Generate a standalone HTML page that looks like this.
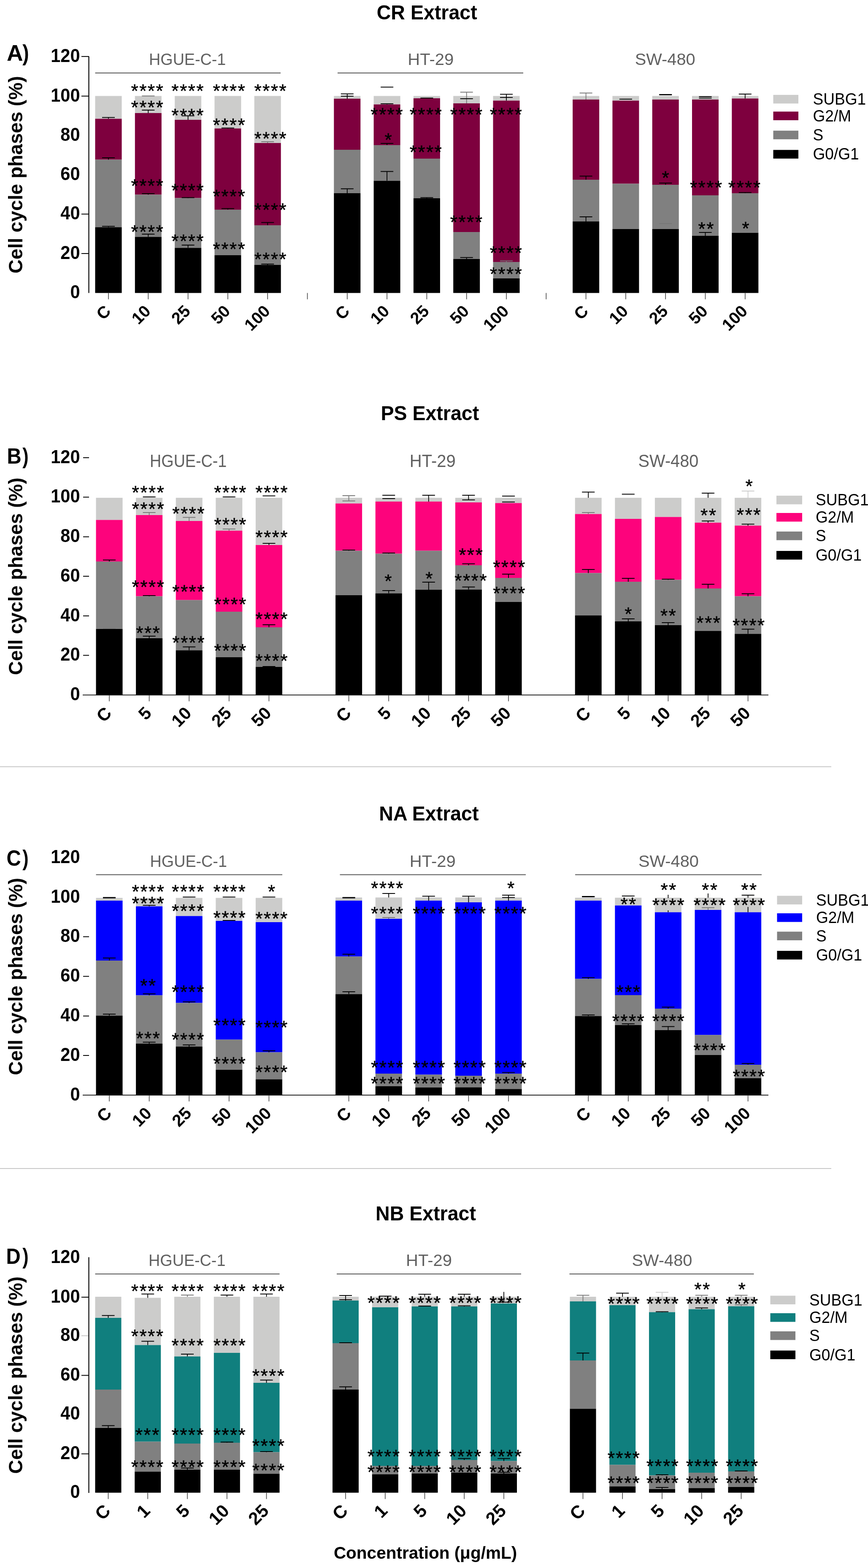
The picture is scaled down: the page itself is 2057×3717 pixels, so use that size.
<!DOCTYPE html><html><head><meta charset="utf-8"><title>Cell cycle phases</title><style>html,body{margin:0;padding:0;background:#fff;}svg{display:block;}</style></head><body><svg width="2057" height="3717" viewBox="0 0 2057 3717" font-family='"Liberation Sans", Arial, sans-serif'>
<rect x="0" y="0" width="2057" height="3717" fill="#fff"/>
<line x1="0.0" y1="1817.5" x2="1970.0" y2="1817.5" stroke="#c6c6c6" stroke-width="2.2"/>
<line x1="0.0" y1="2770.0" x2="1970.0" y2="2770.0" stroke="#c6c6c6" stroke-width="2.2"/>
<text x="0" y="0" font-size="48.5" font-weight="bold" text-anchor="middle" transform="translate(1011.7 45.6) scale(0.96 1)">CR Extract</text>
<text x="0" y="0" font-size="54.5" font-weight="bold" transform="translate(16 144.3) scale(0.98 1)">A</text>
<text x="0" y="0" font-size="54.5" font-weight="bold" transform="translate(53.3 144.3) scale(0.85 1)">)</text>
<text x="0" y="0" font-size="46" font-weight="bold" text-anchor="middle" transform="translate(53.4 414.2) rotate(-90)">Cell cycle phases (%)</text>
<text x="0" y="0" font-size="43.5" font-weight="bold" text-anchor="end" transform="translate(189.5 146.8) scale(0.955 1)">120</text>
<text x="0" y="0" font-size="43.5" font-weight="bold" text-anchor="end" transform="translate(189.5 240.7) scale(0.955 1)">100</text>
<text x="0" y="0" font-size="43.5" font-weight="bold" text-anchor="end" transform="translate(189.5 334.1) scale(0.955 1)">80</text>
<text x="0" y="0" font-size="43.5" font-weight="bold" text-anchor="end" transform="translate(189.5 426.9) scale(0.955 1)">60</text>
<text x="0" y="0" font-size="43.5" font-weight="bold" text-anchor="end" transform="translate(189.5 520.4) scale(0.955 1)">40</text>
<text x="0" y="0" font-size="43.5" font-weight="bold" text-anchor="end" transform="translate(189.5 613.9) scale(0.955 1)">20</text>
<text x="0" y="0" font-size="43.5" font-weight="bold" text-anchor="end" transform="translate(189.5 707.4) scale(0.955 1)">0</text>
<line x1="193.0" y1="133.9" x2="211.0" y2="133.9" stroke="#000" stroke-width="2"/>
<line x1="193.0" y1="227.8" x2="211.0" y2="227.8" stroke="#000" stroke-width="2"/>
<line x1="193.0" y1="507.5" x2="211.0" y2="507.5" stroke="#000" stroke-width="2"/>
<line x1="193.0" y1="601.0" x2="211.0" y2="601.0" stroke="#000" stroke-width="2"/>
<line x1="210.5" y1="134.0" x2="210.5" y2="694.5" stroke="#000" stroke-width="2.2"/>
<rect x="225.5" y="227.5" width="63.0" height="54.0" fill="#cccccb"/>
<rect x="225.5" y="281.5" width="63.0" height="97.0" fill="#7e003e"/>
<rect x="225.5" y="378.5" width="63.0" height="160.0" fill="#808080"/>
<rect x="225.5" y="538.5" width="63.0" height="156.0" fill="#000000"/>
<rect x="319.8" y="227.5" width="63.0" height="40.5" fill="#cccccb"/>
<rect x="319.8" y="268.0" width="63.0" height="193.5" fill="#7e003e"/>
<rect x="319.8" y="461.5" width="63.0" height="100.0" fill="#808080"/>
<rect x="319.8" y="561.5" width="63.0" height="133.0" fill="#000000"/>
<rect x="414.1" y="227.5" width="63.0" height="56.5" fill="#cccccb"/>
<rect x="414.1" y="284.0" width="63.0" height="185.5" fill="#7e003e"/>
<rect x="414.1" y="469.5" width="63.0" height="118.0" fill="#808080"/>
<rect x="414.1" y="587.5" width="63.0" height="107.0" fill="#000000"/>
<rect x="508.4" y="227.5" width="63.0" height="77.0" fill="#cccccb"/>
<rect x="508.4" y="304.5" width="63.0" height="192.5" fill="#7e003e"/>
<rect x="508.4" y="497.0" width="63.0" height="108.0" fill="#808080"/>
<rect x="508.4" y="605.0" width="63.0" height="89.5" fill="#000000"/>
<rect x="602.7" y="227.5" width="63.0" height="111.5" fill="#cccccb"/>
<rect x="602.7" y="339.0" width="63.0" height="195.0" fill="#7e003e"/>
<rect x="602.7" y="534.0" width="63.0" height="94.0" fill="#808080"/>
<rect x="602.7" y="628.0" width="63.0" height="66.5" fill="#000000"/>
<rect x="791.3" y="227.5" width="63.0" height="6.5" fill="#cccccb"/>
<rect x="791.3" y="234.0" width="63.0" height="121.0" fill="#7e003e"/>
<rect x="791.3" y="355.0" width="63.0" height="103.0" fill="#808080"/>
<rect x="791.3" y="458.0" width="63.0" height="236.5" fill="#000000"/>
<rect x="885.6" y="227.5" width="63.0" height="20.0" fill="#cccccb"/>
<rect x="885.6" y="247.5" width="63.0" height="96.5" fill="#7e003e"/>
<rect x="885.6" y="344.0" width="63.0" height="84.5" fill="#808080"/>
<rect x="885.6" y="428.5" width="63.0" height="266.0" fill="#000000"/>
<rect x="979.9" y="227.5" width="63.0" height="5.5" fill="#cccccb"/>
<rect x="979.9" y="233.0" width="63.0" height="143.0" fill="#7e003e"/>
<rect x="979.9" y="376.0" width="63.0" height="94.0" fill="#808080"/>
<rect x="979.9" y="470.0" width="63.0" height="224.5" fill="#000000"/>
<rect x="1074.2" y="227.5" width="63.0" height="17.5" fill="#cccccb"/>
<rect x="1074.2" y="245.0" width="63.0" height="305.0" fill="#7e003e"/>
<rect x="1074.2" y="550.0" width="63.0" height="64.0" fill="#808080"/>
<rect x="1074.2" y="614.0" width="63.0" height="80.5" fill="#000000"/>
<rect x="1168.5" y="227.5" width="63.0" height="11.0" fill="#cccccb"/>
<rect x="1168.5" y="238.5" width="63.0" height="382.5" fill="#7e003e"/>
<rect x="1168.5" y="621.0" width="63.0" height="39.0" fill="#808080"/>
<rect x="1168.5" y="660.0" width="63.0" height="34.5" fill="#000000"/>
<rect x="1357.1" y="227.5" width="63.0" height="8.5" fill="#cccccb"/>
<rect x="1357.1" y="236.0" width="63.0" height="190.0" fill="#7e003e"/>
<rect x="1357.1" y="426.0" width="63.0" height="99.0" fill="#808080"/>
<rect x="1357.1" y="525.0" width="63.0" height="169.5" fill="#000000"/>
<rect x="1451.4" y="227.5" width="63.0" height="11.0" fill="#cccccb"/>
<rect x="1451.4" y="238.5" width="63.0" height="197.0" fill="#7e003e"/>
<rect x="1451.4" y="435.5" width="63.0" height="107.5" fill="#808080"/>
<rect x="1451.4" y="543.0" width="63.0" height="151.5" fill="#000000"/>
<rect x="1545.7" y="227.5" width="63.0" height="8.5" fill="#cccccb"/>
<rect x="1545.7" y="236.0" width="63.0" height="202.0" fill="#7e003e"/>
<rect x="1545.7" y="438.0" width="63.0" height="105.0" fill="#808080"/>
<rect x="1545.7" y="543.0" width="63.0" height="151.5" fill="#000000"/>
<rect x="1640.0" y="227.5" width="63.0" height="8.5" fill="#cccccb"/>
<rect x="1640.0" y="236.0" width="63.0" height="227.0" fill="#7e003e"/>
<rect x="1640.0" y="463.0" width="63.0" height="96.0" fill="#808080"/>
<rect x="1640.0" y="559.0" width="63.0" height="135.5" fill="#000000"/>
<rect x="1734.3" y="227.5" width="63.0" height="6.0" fill="#cccccb"/>
<rect x="1734.3" y="233.5" width="63.0" height="224.5" fill="#7e003e"/>
<rect x="1734.3" y="458.0" width="63.0" height="94.0" fill="#808080"/>
<rect x="1734.3" y="552.0" width="63.0" height="142.5" fill="#000000"/>
<line x1="257.0" y1="694.5" x2="257.0" y2="709.5" stroke="#444" stroke-width="1.6"/>
<line x1="351.3" y1="694.5" x2="351.3" y2="709.5" stroke="#444" stroke-width="1.6"/>
<line x1="445.6" y1="694.5" x2="445.6" y2="709.5" stroke="#444" stroke-width="1.6"/>
<line x1="539.9" y1="694.5" x2="539.9" y2="709.5" stroke="#444" stroke-width="1.6"/>
<line x1="634.2" y1="694.5" x2="634.2" y2="709.5" stroke="#444" stroke-width="1.6"/>
<line x1="728.5" y1="694.5" x2="728.5" y2="709.5" stroke="#444" stroke-width="1.6"/>
<line x1="822.8" y1="694.5" x2="822.8" y2="709.5" stroke="#444" stroke-width="1.6"/>
<line x1="917.1" y1="694.5" x2="917.1" y2="709.5" stroke="#444" stroke-width="1.6"/>
<line x1="1011.4" y1="694.5" x2="1011.4" y2="709.5" stroke="#444" stroke-width="1.6"/>
<line x1="1105.7" y1="694.5" x2="1105.7" y2="709.5" stroke="#444" stroke-width="1.6"/>
<line x1="1200.0" y1="694.5" x2="1200.0" y2="709.5" stroke="#444" stroke-width="1.6"/>
<line x1="1294.3" y1="694.5" x2="1294.3" y2="709.5" stroke="#444" stroke-width="1.6"/>
<line x1="1388.6" y1="694.5" x2="1388.6" y2="709.5" stroke="#444" stroke-width="1.6"/>
<line x1="1482.9" y1="694.5" x2="1482.9" y2="709.5" stroke="#444" stroke-width="1.6"/>
<line x1="1577.2" y1="694.5" x2="1577.2" y2="709.5" stroke="#444" stroke-width="1.6"/>
<line x1="1671.5" y1="694.5" x2="1671.5" y2="709.5" stroke="#444" stroke-width="1.6"/>
<line x1="1765.8" y1="694.5" x2="1765.8" y2="709.5" stroke="#444" stroke-width="1.6"/>
<text x="0" y="0" font-size="39.5" font-weight="bold" text-anchor="end" transform="translate(265.0 740.0) rotate(-45)">C</text>
<text x="0" y="0" font-size="39.5" font-weight="bold" text-anchor="end" transform="translate(359.3 740.0) rotate(-45)">10</text>
<text x="0" y="0" font-size="39.5" font-weight="bold" text-anchor="end" transform="translate(453.6 740.0) rotate(-45)">25</text>
<text x="0" y="0" font-size="39.5" font-weight="bold" text-anchor="end" transform="translate(547.9 740.0) rotate(-45)">50</text>
<text x="0" y="0" font-size="39.5" font-weight="bold" text-anchor="end" transform="translate(642.2 740.0) rotate(-45)">100</text>
<text x="0" y="0" font-size="39.5" font-weight="bold" text-anchor="end" transform="translate(830.8 740.0) rotate(-45)">C</text>
<text x="0" y="0" font-size="39.5" font-weight="bold" text-anchor="end" transform="translate(925.1 740.0) rotate(-45)">10</text>
<text x="0" y="0" font-size="39.5" font-weight="bold" text-anchor="end" transform="translate(1019.4 740.0) rotate(-45)">25</text>
<text x="0" y="0" font-size="39.5" font-weight="bold" text-anchor="end" transform="translate(1113.7 740.0) rotate(-45)">50</text>
<text x="0" y="0" font-size="39.5" font-weight="bold" text-anchor="end" transform="translate(1208.0 740.0) rotate(-45)">100</text>
<text x="0" y="0" font-size="39.5" font-weight="bold" text-anchor="end" transform="translate(1396.6 740.0) rotate(-45)">C</text>
<text x="0" y="0" font-size="39.5" font-weight="bold" text-anchor="end" transform="translate(1490.9 740.0) rotate(-45)">10</text>
<text x="0" y="0" font-size="39.5" font-weight="bold" text-anchor="end" transform="translate(1585.2 740.0) rotate(-45)">25</text>
<text x="0" y="0" font-size="39.5" font-weight="bold" text-anchor="end" transform="translate(1679.5 740.0) rotate(-45)">50</text>
<text x="0" y="0" font-size="39.5" font-weight="bold" text-anchor="end" transform="translate(1773.8 740.0) rotate(-45)">100</text>
<text x="0" y="0" font-size="39" text-anchor="middle" fill="#616161" transform="translate(444.20 153.7) scale(0.967 1.0)">HGUE-C-1</text>
<line x1="225.5" y1="173.0" x2="665.0" y2="173.0" stroke="#555" stroke-width="2"/>
<text x="0" y="0" font-size="39" text-anchor="middle" fill="#616161" transform="translate(1020.75 153.7) scale(1.025 1.0)">HT-29</text>
<line x1="800.0" y1="173.0" x2="1240.0" y2="173.0" stroke="#555" stroke-width="2"/>
<text x="0" y="0" font-size="39" text-anchor="middle" fill="#616161" transform="translate(1576.20 153.7) scale(1.02 1.0)">SW-480</text>
<rect x="1832.5" y="224.9" width="59.5" height="20.5" fill="#cccccb"/>
<text x="0" y="0" font-size="38.5" transform="translate(1926.5 247.9) scale(0.962 1)">SUBG1</text>
<rect x="1832.5" y="264.5" width="59.5" height="20.5" fill="#7e003e"/>
<text x="0" y="0" font-size="38.5" transform="translate(1926.5 287.5) scale(0.962 1)">G2/M</text>
<rect x="1832.5" y="309.7" width="59.5" height="20.5" fill="#808080"/>
<text x="0" y="0" font-size="38.5" transform="translate(1926.5 332.7) scale(0.962 1)">S</text>
<rect x="1832.5" y="355.4" width="59.5" height="20.5" fill="#000000"/>
<text x="0" y="0" font-size="38.5" transform="translate(1926.5 378.4) scale(0.962 1)">G0/G1</text>
<line x1="242.0" y1="278.5" x2="272.0" y2="278.5" stroke="#000" stroke-width="2"/>
<line x1="257.0" y1="278.5" x2="257.0" y2="281.5" stroke="#000" stroke-width="1.8"/>
<line x1="242.0" y1="374.0" x2="272.0" y2="374.0" stroke="#000" stroke-width="2"/>
<line x1="257.0" y1="374.0" x2="257.0" y2="378.5" stroke="#000" stroke-width="1.8"/>
<line x1="242.0" y1="536.5" x2="272.0" y2="536.5" stroke="#000" stroke-width="2"/>
<line x1="257.0" y1="536.5" x2="257.0" y2="538.5" stroke="#000" stroke-width="1.8"/>
<line x1="336.3" y1="227.5" x2="366.3" y2="227.5" stroke="#777" stroke-width="2"/>
<line x1="336.3" y1="261.0" x2="366.3" y2="261.0" stroke="#000" stroke-width="2"/>
<line x1="351.3" y1="261.0" x2="351.3" y2="268.0" stroke="#000" stroke-width="1.8"/>
<line x1="336.3" y1="459.0" x2="366.3" y2="459.0" stroke="#000" stroke-width="2"/>
<line x1="351.3" y1="459.0" x2="351.3" y2="461.5" stroke="#000" stroke-width="1.8"/>
<line x1="336.3" y1="555.0" x2="366.3" y2="555.0" stroke="#000" stroke-width="2"/>
<line x1="351.3" y1="555.0" x2="351.3" y2="561.5" stroke="#000" stroke-width="1.8"/>
<line x1="430.6" y1="274.5" x2="460.6" y2="274.5" stroke="#000" stroke-width="2"/>
<line x1="445.6" y1="274.5" x2="445.6" y2="284.0" stroke="#000" stroke-width="1.8"/>
<line x1="430.6" y1="468.5" x2="460.6" y2="468.5" stroke="#000" stroke-width="2"/>
<line x1="445.6" y1="468.5" x2="445.6" y2="469.5" stroke="#000" stroke-width="1.8"/>
<line x1="430.6" y1="581.0" x2="460.6" y2="581.0" stroke="#000" stroke-width="2"/>
<line x1="445.6" y1="581.0" x2="445.6" y2="587.5" stroke="#000" stroke-width="1.8"/>
<line x1="524.9" y1="303.5" x2="554.9" y2="303.5" stroke="#000" stroke-width="2"/>
<line x1="539.9" y1="303.5" x2="539.9" y2="304.5" stroke="#000" stroke-width="1.8"/>
<line x1="524.9" y1="494.5" x2="554.9" y2="494.5" stroke="#000" stroke-width="2"/>
<line x1="539.9" y1="494.5" x2="539.9" y2="497.0" stroke="#000" stroke-width="1.8"/>
<line x1="619.2" y1="336.0" x2="649.2" y2="336.0" stroke="#777" stroke-width="2"/>
<line x1="634.2" y1="336.0" x2="634.2" y2="339.0" stroke="#777" stroke-width="1.8"/>
<line x1="619.2" y1="527.5" x2="649.2" y2="527.5" stroke="#000" stroke-width="2"/>
<line x1="634.2" y1="527.5" x2="634.2" y2="534.0" stroke="#000" stroke-width="1.8"/>
<line x1="619.2" y1="626.0" x2="649.2" y2="626.0" stroke="#000" stroke-width="2"/>
<line x1="634.2" y1="626.0" x2="634.2" y2="628.0" stroke="#000" stroke-width="1.8"/>
<line x1="807.8" y1="222.5" x2="837.8" y2="222.5" stroke="#000" stroke-width="2"/>
<line x1="822.8" y1="222.5" x2="822.8" y2="234.0" stroke="#000" stroke-width="1.8"/>
<line x1="807.8" y1="228.0" x2="837.8" y2="228.0" stroke="#000" stroke-width="2"/>
<line x1="807.8" y1="447.5" x2="837.8" y2="447.5" stroke="#000" stroke-width="2"/>
<line x1="822.8" y1="447.5" x2="822.8" y2="458.0" stroke="#000" stroke-width="1.8"/>
<line x1="902.1" y1="206.5" x2="932.1" y2="206.5" stroke="#000" stroke-width="2"/>
<line x1="902.1" y1="246.0" x2="932.1" y2="246.0" stroke="#000" stroke-width="2"/>
<line x1="917.1" y1="246.0" x2="917.1" y2="247.5" stroke="#000" stroke-width="1.8"/>
<line x1="902.1" y1="340.0" x2="932.1" y2="340.0" stroke="#000" stroke-width="2"/>
<line x1="917.1" y1="340.0" x2="917.1" y2="344.0" stroke="#000" stroke-width="1.8"/>
<line x1="902.1" y1="406.5" x2="932.1" y2="406.5" stroke="#000" stroke-width="2"/>
<line x1="917.1" y1="406.5" x2="917.1" y2="428.5" stroke="#000" stroke-width="1.8"/>
<line x1="996.4" y1="232.5" x2="1026.4" y2="232.5" stroke="#000" stroke-width="2"/>
<line x1="1011.4" y1="232.5" x2="1011.4" y2="233.0" stroke="#000" stroke-width="1.8"/>
<line x1="996.4" y1="468.5" x2="1026.4" y2="468.5" stroke="#000" stroke-width="2"/>
<line x1="1011.4" y1="468.5" x2="1011.4" y2="470.0" stroke="#000" stroke-width="1.8"/>
<line x1="1090.7" y1="218.5" x2="1120.7" y2="218.5" stroke="#777" stroke-width="2"/>
<line x1="1105.7" y1="218.5" x2="1105.7" y2="245.0" stroke="#777" stroke-width="1.8"/>
<line x1="1090.7" y1="234.0" x2="1120.7" y2="234.0" stroke="#000" stroke-width="2"/>
<line x1="1090.7" y1="610.5" x2="1120.7" y2="610.5" stroke="#000" stroke-width="2"/>
<line x1="1105.7" y1="610.5" x2="1105.7" y2="614.0" stroke="#000" stroke-width="1.8"/>
<line x1="1185.0" y1="223.5" x2="1215.0" y2="223.5" stroke="#000" stroke-width="2"/>
<line x1="1200.0" y1="223.5" x2="1200.0" y2="238.5" stroke="#000" stroke-width="1.8"/>
<line x1="1185.0" y1="231.0" x2="1215.0" y2="231.0" stroke="#000" stroke-width="2"/>
<line x1="1185.0" y1="618.5" x2="1215.0" y2="618.5" stroke="#777" stroke-width="2"/>
<line x1="1200.0" y1="618.5" x2="1200.0" y2="621.0" stroke="#777" stroke-width="1.8"/>
<line x1="1373.6" y1="220.5" x2="1403.6" y2="220.5" stroke="#777" stroke-width="2"/>
<line x1="1388.6" y1="220.5" x2="1388.6" y2="236.0" stroke="#777" stroke-width="1.8"/>
<line x1="1373.6" y1="417.5" x2="1403.6" y2="417.5" stroke="#000" stroke-width="2"/>
<line x1="1388.6" y1="417.5" x2="1388.6" y2="426.0" stroke="#000" stroke-width="1.8"/>
<line x1="1373.6" y1="514.0" x2="1403.6" y2="514.0" stroke="#000" stroke-width="2"/>
<line x1="1388.6" y1="514.0" x2="1388.6" y2="525.0" stroke="#000" stroke-width="1.8"/>
<line x1="1467.9" y1="235.0" x2="1497.9" y2="235.0" stroke="#000" stroke-width="2"/>
<line x1="1562.2" y1="224.0" x2="1592.2" y2="224.0" stroke="#000" stroke-width="2"/>
<line x1="1562.2" y1="224.8" x2="1592.2" y2="224.8" stroke="#000" stroke-width="2"/>
<line x1="1562.2" y1="434.0" x2="1592.2" y2="434.0" stroke="#000" stroke-width="2"/>
<line x1="1577.2" y1="434.0" x2="1577.2" y2="438.0" stroke="#000" stroke-width="1.8"/>
<line x1="1562.2" y1="530.0" x2="1592.2" y2="530.0" stroke="#777" stroke-width="2"/>
<line x1="1656.5" y1="229.0" x2="1686.5" y2="229.0" stroke="#000" stroke-width="2"/>
<line x1="1656.5" y1="232.5" x2="1686.5" y2="232.5" stroke="#000" stroke-width="2"/>
<line x1="1656.5" y1="551.0" x2="1686.5" y2="551.0" stroke="#000" stroke-width="2"/>
<line x1="1671.5" y1="551.0" x2="1671.5" y2="559.0" stroke="#000" stroke-width="1.8"/>
<line x1="1750.8" y1="223.0" x2="1780.8" y2="223.0" stroke="#000" stroke-width="2"/>
<line x1="1765.8" y1="223.0" x2="1765.8" y2="233.5" stroke="#000" stroke-width="1.8"/>
<line x1="1750.8" y1="456.5" x2="1780.8" y2="456.5" stroke="#000" stroke-width="2"/>
<line x1="1765.8" y1="456.5" x2="1765.8" y2="458.0" stroke="#000" stroke-width="1.8"/>
<text x="349.8" y="231.0" font-size="44.5" font-weight="normal" text-anchor="middle" fill="#000" letter-spacing="2.3" stroke="#000" stroke-width="0.5">****</text>
<text x="349.8" y="269.5" font-size="44.5" font-weight="normal" text-anchor="middle" fill="#000" letter-spacing="2.3" stroke="#000" stroke-width="0.5">****</text>
<text x="349.8" y="455.5" font-size="44.5" font-weight="normal" text-anchor="middle" fill="#000" letter-spacing="2.3" stroke="#000" stroke-width="0.5">****</text>
<text x="349.8" y="564.5" font-size="44.5" font-weight="normal" text-anchor="middle" fill="#000" letter-spacing="2.3" stroke="#000" stroke-width="0.5">****</text>
<text x="445.6" y="231.0" font-size="44.5" font-weight="normal" text-anchor="middle" fill="#000" letter-spacing="2.3" stroke="#000" stroke-width="0.5">****</text>
<text x="445.6" y="289.0" font-size="44.5" font-weight="normal" text-anchor="middle" fill="#000" letter-spacing="2.3" stroke="#000" stroke-width="0.5">****</text>
<text x="445.6" y="467.0" font-size="44.5" font-weight="normal" text-anchor="middle" fill="#000" letter-spacing="2.3" stroke="#000" stroke-width="0.5">****</text>
<text x="445.6" y="587.0" font-size="44.5" font-weight="normal" text-anchor="middle" fill="#000" letter-spacing="2.3" stroke="#000" stroke-width="0.5">****</text>
<text x="543.8" y="231.0" font-size="44.5" font-weight="normal" text-anchor="middle" fill="#000" letter-spacing="2.3" stroke="#000" stroke-width="0.5">****</text>
<text x="543.8" y="311.5" font-size="44.5" font-weight="normal" text-anchor="middle" fill="#000" letter-spacing="2.3" stroke="#000" stroke-width="0.5">****</text>
<text x="543.8" y="481.0" font-size="44.5" font-weight="normal" text-anchor="middle" fill="#000" letter-spacing="2.3" stroke="#000" stroke-width="0.5">****</text>
<text x="543.8" y="605.5" font-size="44.5" font-weight="normal" text-anchor="middle" fill="#000" letter-spacing="2.3" stroke="#000" stroke-width="0.5">****</text>
<text x="641.7" y="231.0" font-size="44.5" font-weight="normal" text-anchor="middle" fill="#000" letter-spacing="2.3" stroke="#000" stroke-width="0.5">****</text>
<text x="641.7" y="344.0" font-size="44.5" font-weight="normal" text-anchor="middle" fill="#000" letter-spacing="2.3" stroke="#000" stroke-width="0.5">****</text>
<text x="641.7" y="513.0" font-size="44.5" font-weight="normal" text-anchor="middle" fill="#000" letter-spacing="2.3" stroke="#000" stroke-width="0.5">****</text>
<text x="641.7" y="629.5" font-size="44.5" font-weight="normal" text-anchor="middle" fill="#000" letter-spacing="2.3" stroke="#000" stroke-width="0.5">****</text>
<text x="917.6" y="287.0" font-size="44.5" font-weight="normal" text-anchor="middle" fill="#000" letter-spacing="2.3" stroke="#000" stroke-width="0.5">****</text>
<text x="921.2" y="346.5" font-size="44.5" font-weight="normal" text-anchor="middle" fill="#000" letter-spacing="2.3" stroke="#000" stroke-width="0.5">*</text>
<text x="1009.9" y="287.0" font-size="44.5" font-weight="normal" text-anchor="middle" fill="#000" letter-spacing="2.3" stroke="#000" stroke-width="0.5">****</text>
<text x="1009.9" y="376.0" font-size="44.5" font-weight="normal" text-anchor="middle" fill="#000" letter-spacing="2.3" stroke="#000" stroke-width="0.5">****</text>
<text x="1106.1" y="287.0" font-size="44.5" font-weight="normal" text-anchor="middle" fill="#000" letter-spacing="2.3" stroke="#000" stroke-width="0.5">****</text>
<text x="1106.1" y="542.0" font-size="44.5" font-weight="normal" text-anchor="middle" fill="#000" letter-spacing="2.3" stroke="#000" stroke-width="0.5">****</text>
<text x="1200.0" y="287.0" font-size="44.5" font-weight="normal" text-anchor="middle" fill="#000" letter-spacing="2.3" stroke="#000" stroke-width="0.5">****</text>
<text x="1200.0" y="615.0" font-size="44.5" font-weight="normal" text-anchor="middle" fill="#000" letter-spacing="2.3" stroke="#000" stroke-width="0.5">****</text>
<text x="1200.0" y="664.5" font-size="44.5" font-weight="normal" text-anchor="middle" fill="#000" letter-spacing="2.3" stroke="#000" stroke-width="0.5">****</text>
<text x="1578.4" y="437.0" font-size="44.5" font-weight="normal" text-anchor="middle" fill="#000" letter-spacing="2.3" stroke="#000" stroke-width="0.5">*</text>
<text x="1674.2" y="459.5" font-size="44.5" font-weight="normal" text-anchor="middle" fill="#000" letter-spacing="2.3" stroke="#000" stroke-width="0.5">****</text>
<text x="1674.2" y="558.0" font-size="44.5" font-weight="normal" text-anchor="middle" fill="#000" letter-spacing="2.3" stroke="#000" stroke-width="0.5">**</text>
<text x="1765.1" y="459.5" font-size="44.5" font-weight="normal" text-anchor="middle" fill="#000" letter-spacing="2.3" stroke="#000" stroke-width="0.5">****</text>
<text x="1768.1" y="557.0" font-size="44.5" font-weight="normal" text-anchor="middle" fill="#000" letter-spacing="2.3" stroke="#000" stroke-width="0.5">*</text>
<text x="0" y="0" font-size="48.5" font-weight="bold" text-anchor="middle" transform="translate(1018.8 996.1) scale(0.96 1)">PS Extract</text>
<text x="0" y="0" font-size="51" font-weight="bold" transform="translate(16.5 1099.4) scale(0.93 1)">B</text>
<text x="0" y="0" font-size="51" font-weight="bold" transform="translate(53.3 1099.4) scale(0.85 1)">)</text>
<text x="0" y="0" font-size="46" font-weight="bold" text-anchor="middle" transform="translate(53.4 1366.2) rotate(-90)">Cell cycle phases (%)</text>
<text x="0" y="0" font-size="43.5" font-weight="bold" text-anchor="end" transform="translate(189.5 1097.9) scale(0.955 1)">120</text>
<text x="0" y="0" font-size="43.5" font-weight="bold" text-anchor="end" transform="translate(189.5 1191.4) scale(0.955 1)">100</text>
<text x="0" y="0" font-size="43.5" font-weight="bold" text-anchor="end" transform="translate(189.5 1285.4) scale(0.955 1)">80</text>
<text x="0" y="0" font-size="43.5" font-weight="bold" text-anchor="end" transform="translate(189.5 1378.9) scale(0.955 1)">60</text>
<text x="0" y="0" font-size="43.5" font-weight="bold" text-anchor="end" transform="translate(189.5 1472.9) scale(0.955 1)">40</text>
<text x="0" y="0" font-size="43.5" font-weight="bold" text-anchor="end" transform="translate(189.5 1566.4) scale(0.955 1)">20</text>
<text x="0" y="0" font-size="43.5" font-weight="bold" text-anchor="end" transform="translate(189.5 1660.4) scale(0.955 1)">0</text>
<line x1="197.0" y1="1085.0" x2="211.0" y2="1085.0" stroke="#000" stroke-width="2"/>
<line x1="197.0" y1="1178.5" x2="211.0" y2="1178.5" stroke="#000" stroke-width="2"/>
<line x1="197.0" y1="1272.5" x2="211.0" y2="1272.5" stroke="#000" stroke-width="2"/>
<line x1="197.0" y1="1366.0" x2="211.0" y2="1366.0" stroke="#000" stroke-width="2"/>
<line x1="197.0" y1="1460.0" x2="211.0" y2="1460.0" stroke="#000" stroke-width="2"/>
<line x1="197.0" y1="1553.5" x2="211.0" y2="1553.5" stroke="#000" stroke-width="2"/>
<line x1="196.0" y1="1647.5" x2="1821.0" y2="1647.5" stroke="#222" stroke-width="2"/>
<rect x="227.5" y="1180.0" width="63.0" height="52.5" fill="#cccccb"/>
<rect x="227.5" y="1232.5" width="63.0" height="98.5" fill="#fd037c"/>
<rect x="227.5" y="1331.0" width="63.0" height="160.0" fill="#808080"/>
<rect x="227.5" y="1491.0" width="63.0" height="156.5" fill="#000000"/>
<rect x="322.1" y="1180.0" width="63.0" height="41.0" fill="#cccccb"/>
<rect x="322.1" y="1221.0" width="63.0" height="192.5" fill="#fd037c"/>
<rect x="322.1" y="1413.5" width="63.0" height="99.5" fill="#808080"/>
<rect x="322.1" y="1513.0" width="63.0" height="134.5" fill="#000000"/>
<rect x="416.7" y="1180.0" width="63.0" height="55.0" fill="#cccccb"/>
<rect x="416.7" y="1235.0" width="63.0" height="187.5" fill="#fd037c"/>
<rect x="416.7" y="1422.5" width="63.0" height="119.0" fill="#808080"/>
<rect x="416.7" y="1541.5" width="63.0" height="106.0" fill="#000000"/>
<rect x="511.3" y="1180.0" width="63.0" height="78.0" fill="#cccccb"/>
<rect x="511.3" y="1258.0" width="63.0" height="192.0" fill="#fd037c"/>
<rect x="511.3" y="1450.0" width="63.0" height="108.0" fill="#808080"/>
<rect x="511.3" y="1558.0" width="63.0" height="89.5" fill="#000000"/>
<rect x="605.9" y="1180.0" width="63.0" height="112.0" fill="#cccccb"/>
<rect x="605.9" y="1292.0" width="63.0" height="195.0" fill="#fd037c"/>
<rect x="605.9" y="1487.0" width="63.0" height="94.0" fill="#808080"/>
<rect x="605.9" y="1581.0" width="63.0" height="66.5" fill="#000000"/>
<rect x="795.1" y="1180.0" width="63.0" height="13.5" fill="#cccccb"/>
<rect x="795.1" y="1193.5" width="63.0" height="112.0" fill="#fd037c"/>
<rect x="795.1" y="1305.5" width="63.0" height="105.5" fill="#808080"/>
<rect x="795.1" y="1411.0" width="63.0" height="236.5" fill="#000000"/>
<rect x="889.7" y="1180.0" width="63.0" height="9.0" fill="#cccccb"/>
<rect x="889.7" y="1189.0" width="63.0" height="123.5" fill="#fd037c"/>
<rect x="889.7" y="1312.5" width="63.0" height="94.0" fill="#808080"/>
<rect x="889.7" y="1406.5" width="63.0" height="241.0" fill="#000000"/>
<rect x="984.3" y="1180.0" width="63.0" height="9.0" fill="#cccccb"/>
<rect x="984.3" y="1189.0" width="63.0" height="116.5" fill="#fd037c"/>
<rect x="984.3" y="1305.5" width="63.0" height="92.5" fill="#808080"/>
<rect x="984.3" y="1398.0" width="63.0" height="249.5" fill="#000000"/>
<rect x="1078.9" y="1180.0" width="63.0" height="11.0" fill="#cccccb"/>
<rect x="1078.9" y="1191.0" width="63.0" height="149.0" fill="#fd037c"/>
<rect x="1078.9" y="1340.0" width="63.0" height="57.5" fill="#808080"/>
<rect x="1078.9" y="1397.5" width="63.0" height="250.0" fill="#000000"/>
<rect x="1173.5" y="1180.0" width="63.0" height="12.5" fill="#cccccb"/>
<rect x="1173.5" y="1192.5" width="63.0" height="177.5" fill="#fd037c"/>
<rect x="1173.5" y="1370.0" width="63.0" height="57.0" fill="#808080"/>
<rect x="1173.5" y="1427.0" width="63.0" height="220.5" fill="#000000"/>
<rect x="1362.7" y="1180.0" width="63.0" height="38.5" fill="#cccccb"/>
<rect x="1362.7" y="1218.5" width="63.0" height="140.0" fill="#fd037c"/>
<rect x="1362.7" y="1358.5" width="63.0" height="100.5" fill="#808080"/>
<rect x="1362.7" y="1459.0" width="63.0" height="188.5" fill="#000000"/>
<rect x="1457.3" y="1180.0" width="63.0" height="50.0" fill="#cccccb"/>
<rect x="1457.3" y="1230.0" width="63.0" height="149.0" fill="#fd037c"/>
<rect x="1457.3" y="1379.0" width="63.0" height="94.0" fill="#808080"/>
<rect x="1457.3" y="1473.0" width="63.0" height="174.5" fill="#000000"/>
<rect x="1551.9" y="1180.0" width="63.0" height="45.5" fill="#cccccb"/>
<rect x="1551.9" y="1225.5" width="63.0" height="149.0" fill="#fd037c"/>
<rect x="1551.9" y="1374.5" width="63.0" height="107.5" fill="#808080"/>
<rect x="1551.9" y="1482.0" width="63.0" height="165.5" fill="#000000"/>
<rect x="1646.5" y="1180.0" width="63.0" height="59.0" fill="#cccccb"/>
<rect x="1646.5" y="1239.0" width="63.0" height="156.0" fill="#fd037c"/>
<rect x="1646.5" y="1395.0" width="63.0" height="100.5" fill="#808080"/>
<rect x="1646.5" y="1495.5" width="63.0" height="152.0" fill="#000000"/>
<rect x="1741.1" y="1180.0" width="63.0" height="66.0" fill="#cccccb"/>
<rect x="1741.1" y="1246.0" width="63.0" height="167.5" fill="#fd037c"/>
<rect x="1741.1" y="1413.5" width="63.0" height="89.0" fill="#808080"/>
<rect x="1741.1" y="1502.5" width="63.0" height="145.0" fill="#000000"/>
<line x1="259.0" y1="1647.5" x2="259.0" y2="1662.5" stroke="#444" stroke-width="1.6"/>
<line x1="353.6" y1="1647.5" x2="353.6" y2="1662.5" stroke="#444" stroke-width="1.6"/>
<line x1="448.2" y1="1647.5" x2="448.2" y2="1662.5" stroke="#444" stroke-width="1.6"/>
<line x1="542.8" y1="1647.5" x2="542.8" y2="1662.5" stroke="#444" stroke-width="1.6"/>
<line x1="637.4" y1="1647.5" x2="637.4" y2="1662.5" stroke="#444" stroke-width="1.6"/>
<line x1="826.6" y1="1647.5" x2="826.6" y2="1662.5" stroke="#444" stroke-width="1.6"/>
<line x1="921.2" y1="1647.5" x2="921.2" y2="1662.5" stroke="#444" stroke-width="1.6"/>
<line x1="1015.8" y1="1647.5" x2="1015.8" y2="1662.5" stroke="#444" stroke-width="1.6"/>
<line x1="1110.4" y1="1647.5" x2="1110.4" y2="1662.5" stroke="#444" stroke-width="1.6"/>
<line x1="1205.0" y1="1647.5" x2="1205.0" y2="1662.5" stroke="#444" stroke-width="1.6"/>
<line x1="1394.2" y1="1647.5" x2="1394.2" y2="1662.5" stroke="#444" stroke-width="1.6"/>
<line x1="1488.8" y1="1647.5" x2="1488.8" y2="1662.5" stroke="#444" stroke-width="1.6"/>
<line x1="1583.4" y1="1647.5" x2="1583.4" y2="1662.5" stroke="#444" stroke-width="1.6"/>
<line x1="1678.0" y1="1647.5" x2="1678.0" y2="1662.5" stroke="#444" stroke-width="1.6"/>
<line x1="1772.6" y1="1647.5" x2="1772.6" y2="1662.5" stroke="#444" stroke-width="1.6"/>
<text x="0" y="0" font-size="41.5" font-weight="bold" text-anchor="end" transform="translate(267.0 1693.0) rotate(-45)">C</text>
<text x="0" y="0" font-size="41.5" font-weight="bold" text-anchor="end" transform="translate(361.6 1693.0) rotate(-45)">5</text>
<text x="0" y="0" font-size="41.5" font-weight="bold" text-anchor="end" transform="translate(456.2 1693.0) rotate(-45)">10</text>
<text x="0" y="0" font-size="41.5" font-weight="bold" text-anchor="end" transform="translate(550.8 1693.0) rotate(-45)">25</text>
<text x="0" y="0" font-size="41.5" font-weight="bold" text-anchor="end" transform="translate(645.4 1693.0) rotate(-45)">50</text>
<text x="0" y="0" font-size="41.5" font-weight="bold" text-anchor="end" transform="translate(834.6 1693.0) rotate(-45)">C</text>
<text x="0" y="0" font-size="41.5" font-weight="bold" text-anchor="end" transform="translate(929.2 1693.0) rotate(-45)">5</text>
<text x="0" y="0" font-size="41.5" font-weight="bold" text-anchor="end" transform="translate(1023.8 1693.0) rotate(-45)">10</text>
<text x="0" y="0" font-size="41.5" font-weight="bold" text-anchor="end" transform="translate(1118.4 1693.0) rotate(-45)">25</text>
<text x="0" y="0" font-size="41.5" font-weight="bold" text-anchor="end" transform="translate(1213.0 1693.0) rotate(-45)">50</text>
<text x="0" y="0" font-size="41.5" font-weight="bold" text-anchor="end" transform="translate(1402.2 1693.0) rotate(-45)">C</text>
<text x="0" y="0" font-size="41.5" font-weight="bold" text-anchor="end" transform="translate(1496.8 1693.0) rotate(-45)">5</text>
<text x="0" y="0" font-size="41.5" font-weight="bold" text-anchor="end" transform="translate(1591.4 1693.0) rotate(-45)">10</text>
<text x="0" y="0" font-size="41.5" font-weight="bold" text-anchor="end" transform="translate(1686.0 1693.0) rotate(-45)">25</text>
<text x="0" y="0" font-size="41.5" font-weight="bold" text-anchor="end" transform="translate(1780.6 1693.0) rotate(-45)">50</text>
<text x="0" y="0" font-size="39" text-anchor="middle" fill="#616161" transform="translate(446.20 1106.7) scale(0.967 1.08)">HGUE-C-1</text>
<text x="0" y="0" font-size="39" text-anchor="middle" fill="#616161" transform="translate(1025.25 1106.7) scale(1.025 1.08)">HT-29</text>
<text x="0" y="0" font-size="39" text-anchor="middle" fill="#616161" transform="translate(1584.00 1106.7) scale(1.02 1.08)">SW-480</text>
<rect x="1840.0" y="1175.0" width="61.0" height="20.5" fill="#cccccb"/>
<text x="0" y="0" font-size="38.5" transform="translate(1933 1198.0) scale(0.962 1)">SUBG1</text>
<rect x="1840.0" y="1216.0" width="61.0" height="20.5" fill="#fd037c"/>
<text x="0" y="0" font-size="38.5" transform="translate(1933 1239.0) scale(0.962 1)">G2/M</text>
<rect x="1840.0" y="1260.0" width="61.0" height="20.5" fill="#808080"/>
<text x="0" y="0" font-size="38.5" transform="translate(1933 1283.0) scale(0.962 1)">S</text>
<rect x="1840.0" y="1306.0" width="61.0" height="20.5" fill="#000000"/>
<text x="0" y="0" font-size="38.5" transform="translate(1933 1329.0) scale(0.962 1)">G0/G1</text>
<line x1="244.0" y1="1327.5" x2="274.0" y2="1327.5" stroke="#000" stroke-width="2"/>
<line x1="259.0" y1="1327.5" x2="259.0" y2="1331.0" stroke="#000" stroke-width="1.8"/>
<line x1="244.0" y1="1490.0" x2="274.0" y2="1490.0" stroke="#777" stroke-width="2"/>
<line x1="259.0" y1="1490.0" x2="259.0" y2="1491.0" stroke="#777" stroke-width="1.8"/>
<line x1="338.6" y1="1178.0" x2="368.6" y2="1178.0" stroke="#000" stroke-width="2"/>
<line x1="338.6" y1="1215.0" x2="368.6" y2="1215.0" stroke="#777" stroke-width="2"/>
<line x1="353.6" y1="1215.0" x2="353.6" y2="1221.0" stroke="#777" stroke-width="1.8"/>
<line x1="338.6" y1="1412.0" x2="368.6" y2="1412.0" stroke="#000" stroke-width="2"/>
<line x1="353.6" y1="1412.0" x2="353.6" y2="1413.5" stroke="#000" stroke-width="1.8"/>
<line x1="338.6" y1="1508.0" x2="368.6" y2="1508.0" stroke="#000" stroke-width="2"/>
<line x1="353.6" y1="1508.0" x2="353.6" y2="1513.0" stroke="#000" stroke-width="1.8"/>
<line x1="433.2" y1="1226.5" x2="463.2" y2="1226.5" stroke="#777" stroke-width="2"/>
<line x1="448.2" y1="1226.5" x2="448.2" y2="1235.0" stroke="#777" stroke-width="1.8"/>
<line x1="433.2" y1="1533.5" x2="463.2" y2="1533.5" stroke="#000" stroke-width="2"/>
<line x1="448.2" y1="1533.5" x2="448.2" y2="1541.5" stroke="#000" stroke-width="1.8"/>
<line x1="527.8" y1="1178.0" x2="557.8" y2="1178.0" stroke="#000" stroke-width="2"/>
<line x1="527.8" y1="1254.0" x2="557.8" y2="1254.0" stroke="#777" stroke-width="2"/>
<line x1="542.8" y1="1254.0" x2="542.8" y2="1258.0" stroke="#777" stroke-width="1.8"/>
<line x1="622.4" y1="1175.5" x2="652.4" y2="1175.5" stroke="#000" stroke-width="2"/>
<line x1="622.4" y1="1288.0" x2="652.4" y2="1288.0" stroke="#000" stroke-width="2"/>
<line x1="637.4" y1="1288.0" x2="637.4" y2="1292.0" stroke="#000" stroke-width="1.8"/>
<line x1="622.4" y1="1481.0" x2="652.4" y2="1481.0" stroke="#000" stroke-width="2"/>
<line x1="637.4" y1="1481.0" x2="637.4" y2="1487.0" stroke="#000" stroke-width="1.8"/>
<line x1="622.4" y1="1580.0" x2="652.4" y2="1580.0" stroke="#000" stroke-width="2"/>
<line x1="637.4" y1="1580.0" x2="637.4" y2="1581.0" stroke="#000" stroke-width="1.8"/>
<line x1="811.6" y1="1175.0" x2="841.6" y2="1175.0" stroke="#777" stroke-width="2"/>
<line x1="826.6" y1="1175.0" x2="826.6" y2="1187.5" stroke="#777" stroke-width="1.8"/>
<line x1="811.6" y1="1187.5" x2="841.6" y2="1187.5" stroke="#777" stroke-width="2"/>
<line x1="811.6" y1="1304.0" x2="841.6" y2="1304.0" stroke="#000" stroke-width="2"/>
<line x1="826.6" y1="1304.0" x2="826.6" y2="1305.5" stroke="#000" stroke-width="1.8"/>
<line x1="906.2" y1="1174.0" x2="936.2" y2="1174.0" stroke="#000" stroke-width="2"/>
<line x1="906.2" y1="1182.0" x2="936.2" y2="1182.0" stroke="#000" stroke-width="2"/>
<line x1="906.2" y1="1311.0" x2="936.2" y2="1311.0" stroke="#000" stroke-width="2"/>
<line x1="921.2" y1="1311.0" x2="921.2" y2="1312.5" stroke="#000" stroke-width="1.8"/>
<line x1="906.2" y1="1400.0" x2="936.2" y2="1400.0" stroke="#000" stroke-width="2"/>
<line x1="921.2" y1="1400.0" x2="921.2" y2="1406.5" stroke="#000" stroke-width="1.8"/>
<line x1="1000.8" y1="1174.0" x2="1030.8" y2="1174.0" stroke="#000" stroke-width="2"/>
<line x1="1015.8" y1="1174.0" x2="1015.8" y2="1189.0" stroke="#000" stroke-width="1.8"/>
<line x1="1000.8" y1="1380.0" x2="1030.8" y2="1380.0" stroke="#000" stroke-width="2"/>
<line x1="1015.8" y1="1380.0" x2="1015.8" y2="1398.0" stroke="#000" stroke-width="1.8"/>
<line x1="1095.4" y1="1174.0" x2="1125.4" y2="1174.0" stroke="#000" stroke-width="2"/>
<line x1="1110.4" y1="1174.0" x2="1110.4" y2="1185.0" stroke="#000" stroke-width="1.8"/>
<line x1="1095.4" y1="1185.0" x2="1125.4" y2="1185.0" stroke="#000" stroke-width="2"/>
<line x1="1095.4" y1="1336.5" x2="1125.4" y2="1336.5" stroke="#000" stroke-width="2"/>
<line x1="1110.4" y1="1336.5" x2="1110.4" y2="1340.0" stroke="#000" stroke-width="1.8"/>
<line x1="1095.4" y1="1391.5" x2="1125.4" y2="1391.5" stroke="#000" stroke-width="2"/>
<line x1="1110.4" y1="1391.5" x2="1110.4" y2="1397.5" stroke="#000" stroke-width="1.8"/>
<line x1="1190.0" y1="1176.0" x2="1220.0" y2="1176.0" stroke="#000" stroke-width="2"/>
<line x1="1190.0" y1="1190.0" x2="1220.0" y2="1190.0" stroke="#000" stroke-width="2"/>
<line x1="1190.0" y1="1361.0" x2="1220.0" y2="1361.0" stroke="#000" stroke-width="2"/>
<line x1="1205.0" y1="1361.0" x2="1205.0" y2="1370.0" stroke="#000" stroke-width="1.8"/>
<line x1="1379.2" y1="1166.5" x2="1409.2" y2="1166.5" stroke="#000" stroke-width="2"/>
<line x1="1394.2" y1="1166.5" x2="1394.2" y2="1180.0" stroke="#000" stroke-width="1.8"/>
<line x1="1379.2" y1="1215.0" x2="1409.2" y2="1215.0" stroke="#777" stroke-width="2"/>
<line x1="1394.2" y1="1215.0" x2="1394.2" y2="1218.5" stroke="#777" stroke-width="1.8"/>
<line x1="1379.2" y1="1350.0" x2="1409.2" y2="1350.0" stroke="#000" stroke-width="2"/>
<line x1="1394.2" y1="1350.0" x2="1394.2" y2="1358.5" stroke="#000" stroke-width="1.8"/>
<line x1="1473.8" y1="1171.5" x2="1503.8" y2="1171.5" stroke="#000" stroke-width="2"/>
<line x1="1473.8" y1="1371.0" x2="1503.8" y2="1371.0" stroke="#000" stroke-width="2"/>
<line x1="1488.8" y1="1371.0" x2="1488.8" y2="1379.0" stroke="#000" stroke-width="1.8"/>
<line x1="1473.8" y1="1467.0" x2="1503.8" y2="1467.0" stroke="#000" stroke-width="2"/>
<line x1="1488.8" y1="1467.0" x2="1488.8" y2="1473.0" stroke="#000" stroke-width="1.8"/>
<line x1="1568.4" y1="1373.0" x2="1598.4" y2="1373.0" stroke="#000" stroke-width="2"/>
<line x1="1583.4" y1="1373.0" x2="1583.4" y2="1374.5" stroke="#000" stroke-width="1.8"/>
<line x1="1568.4" y1="1476.0" x2="1598.4" y2="1476.0" stroke="#000" stroke-width="2"/>
<line x1="1583.4" y1="1476.0" x2="1583.4" y2="1482.0" stroke="#000" stroke-width="1.8"/>
<line x1="1663.0" y1="1169.0" x2="1693.0" y2="1169.0" stroke="#000" stroke-width="2"/>
<line x1="1678.0" y1="1169.0" x2="1678.0" y2="1180.0" stroke="#000" stroke-width="1.8"/>
<line x1="1663.0" y1="1235.0" x2="1693.0" y2="1235.0" stroke="#000" stroke-width="2"/>
<line x1="1678.0" y1="1235.0" x2="1678.0" y2="1239.0" stroke="#000" stroke-width="1.8"/>
<line x1="1663.0" y1="1385.0" x2="1693.0" y2="1385.0" stroke="#000" stroke-width="2"/>
<line x1="1678.0" y1="1385.0" x2="1678.0" y2="1395.0" stroke="#000" stroke-width="1.8"/>
<line x1="1757.6" y1="1164.0" x2="1787.6" y2="1164.0" stroke="#ccc" stroke-width="2"/>
<line x1="1772.6" y1="1164.0" x2="1772.6" y2="1180.0" stroke="#ccc" stroke-width="1.8"/>
<line x1="1757.6" y1="1242.5" x2="1787.6" y2="1242.5" stroke="#000" stroke-width="2"/>
<line x1="1772.6" y1="1242.5" x2="1772.6" y2="1246.0" stroke="#000" stroke-width="1.8"/>
<line x1="1757.6" y1="1407.5" x2="1787.6" y2="1407.5" stroke="#000" stroke-width="2"/>
<line x1="1772.6" y1="1407.5" x2="1772.6" y2="1413.5" stroke="#000" stroke-width="1.8"/>
<line x1="1757.6" y1="1491.5" x2="1787.6" y2="1491.5" stroke="#000" stroke-width="2"/>
<line x1="1772.6" y1="1491.5" x2="1772.6" y2="1502.5" stroke="#000" stroke-width="1.8"/>
<text x="351.8" y="1183.0" font-size="44.5" font-weight="normal" text-anchor="middle" fill="#000" letter-spacing="2.3" stroke="#000" stroke-width="0.5">****</text>
<text x="351.8" y="1222.0" font-size="44.5" font-weight="normal" text-anchor="middle" fill="#000" letter-spacing="2.3" stroke="#000" stroke-width="0.5">****</text>
<text x="351.8" y="1407.0" font-size="44.5" font-weight="normal" text-anchor="middle" fill="#000" letter-spacing="2.3" stroke="#000" stroke-width="0.5">****</text>
<text x="351.8" y="1516.0" font-size="44.5" font-weight="normal" text-anchor="middle" fill="#000" letter-spacing="2.3" stroke="#000" stroke-width="0.5">***</text>
<text x="447.6" y="1233.0" font-size="44.5" font-weight="normal" text-anchor="middle" fill="#000" letter-spacing="2.3" stroke="#000" stroke-width="0.5">****</text>
<text x="447.6" y="1418.0" font-size="44.5" font-weight="normal" text-anchor="middle" fill="#000" letter-spacing="2.3" stroke="#000" stroke-width="0.5">****</text>
<text x="447.6" y="1539.0" font-size="44.5" font-weight="normal" text-anchor="middle" fill="#000" letter-spacing="2.3" stroke="#000" stroke-width="0.5">****</text>
<text x="546.5" y="1183.0" font-size="44.5" font-weight="normal" text-anchor="middle" fill="#000" letter-spacing="2.3" stroke="#000" stroke-width="0.5">****</text>
<text x="546.5" y="1259.0" font-size="44.5" font-weight="normal" text-anchor="middle" fill="#000" letter-spacing="2.3" stroke="#000" stroke-width="0.5">****</text>
<text x="546.5" y="1448.0" font-size="44.5" font-weight="normal" text-anchor="middle" fill="#000" letter-spacing="2.3" stroke="#000" stroke-width="0.5">****</text>
<text x="546.5" y="1558.0" font-size="44.5" font-weight="normal" text-anchor="middle" fill="#000" letter-spacing="2.3" stroke="#000" stroke-width="0.5">****</text>
<text x="644.6" y="1183.0" font-size="44.5" font-weight="normal" text-anchor="middle" fill="#000" letter-spacing="2.3" stroke="#000" stroke-width="0.5">****</text>
<text x="644.6" y="1289.0" font-size="44.5" font-weight="normal" text-anchor="middle" fill="#000" letter-spacing="2.3" stroke="#000" stroke-width="0.5">****</text>
<text x="644.6" y="1483.0" font-size="44.5" font-weight="normal" text-anchor="middle" fill="#000" letter-spacing="2.3" stroke="#000" stroke-width="0.5">****</text>
<text x="644.6" y="1582.0" font-size="44.5" font-weight="normal" text-anchor="middle" fill="#000" letter-spacing="2.3" stroke="#000" stroke-width="0.5">****</text>
<text x="921.1" y="1393.0" font-size="44.5" font-weight="normal" text-anchor="middle" fill="#000" letter-spacing="2.3" stroke="#000" stroke-width="0.5">*</text>
<text x="1018.1" y="1387.0" font-size="44.5" font-weight="normal" text-anchor="middle" fill="#000" letter-spacing="2.3" stroke="#000" stroke-width="0.5">*</text>
<text x="1116.6" y="1330.5" font-size="44.5" font-weight="normal" text-anchor="middle" fill="#000" letter-spacing="2.3" stroke="#000" stroke-width="0.5">***</text>
<text x="1116.6" y="1391.5" font-size="44.5" font-weight="normal" text-anchor="middle" fill="#000" letter-spacing="2.3" stroke="#000" stroke-width="0.5">****</text>
<text x="1207.4" y="1359.5" font-size="44.5" font-weight="normal" text-anchor="middle" fill="#000" letter-spacing="2.3" stroke="#000" stroke-width="0.5">****</text>
<text x="1207.4" y="1421.5" font-size="44.5" font-weight="normal" text-anchor="middle" fill="#000" letter-spacing="2.3" stroke="#000" stroke-width="0.5">****</text>
<text x="1490.0" y="1470.5" font-size="44.5" font-weight="normal" text-anchor="middle" fill="#000" letter-spacing="2.3" stroke="#000" stroke-width="0.5">*</text>
<text x="1584.5" y="1474.5" font-size="44.5" font-weight="normal" text-anchor="middle" fill="#000" letter-spacing="2.3" stroke="#000" stroke-width="0.5">**</text>
<text x="1679.7" y="1237.0" font-size="44.5" font-weight="normal" text-anchor="middle" fill="#000" letter-spacing="2.3" stroke="#000" stroke-width="0.5">**</text>
<text x="1679.7" y="1492.0" font-size="44.5" font-weight="normal" text-anchor="middle" fill="#000" letter-spacing="2.3" stroke="#000" stroke-width="0.5">***</text>
<text x="1776.2" y="1168.0" font-size="44.5" font-weight="normal" text-anchor="middle" fill="#000" letter-spacing="2.3" stroke="#000" stroke-width="0.5">*</text>
<text x="1775.2" y="1235.5" font-size="44.5" font-weight="normal" text-anchor="middle" fill="#000" letter-spacing="2.3" stroke="#000" stroke-width="0.5">***</text>
<text x="1775.2" y="1498.0" font-size="44.5" font-weight="normal" text-anchor="middle" fill="#000" letter-spacing="2.3" stroke="#000" stroke-width="0.5">****</text>
<text x="0" y="0" font-size="48.5" font-weight="bold" text-anchor="middle" transform="translate(1016.4 1944.7) scale(0.96 1)">NA Extract</text>
<text x="0" y="0" font-size="51" font-weight="bold" transform="translate(15.5 2051.6) scale(0.93 1)">C</text>
<text x="0" y="0" font-size="51" font-weight="bold" transform="translate(53.3 2051.6) scale(0.85 1)">)</text>
<text x="0" y="0" font-size="46" font-weight="bold" text-anchor="middle" transform="translate(53.4 2314.8) rotate(-90)">Cell cycle phases (%)</text>
<text x="0" y="0" font-size="43.5" font-weight="bold" text-anchor="end" transform="translate(189.5 2046.4) scale(0.955 1)">120</text>
<text x="0" y="0" font-size="43.5" font-weight="bold" text-anchor="end" transform="translate(189.5 2140.4) scale(0.955 1)">100</text>
<text x="0" y="0" font-size="43.5" font-weight="bold" text-anchor="end" transform="translate(189.5 2233.4) scale(0.955 1)">80</text>
<text x="0" y="0" font-size="43.5" font-weight="bold" text-anchor="end" transform="translate(189.5 2327.4) scale(0.955 1)">60</text>
<text x="0" y="0" font-size="43.5" font-weight="bold" text-anchor="end" transform="translate(189.5 2421.4) scale(0.955 1)">40</text>
<text x="0" y="0" font-size="43.5" font-weight="bold" text-anchor="end" transform="translate(189.5 2514.9) scale(0.955 1)">20</text>
<text x="0" y="0" font-size="43.5" font-weight="bold" text-anchor="end" transform="translate(189.5 2608.9) scale(0.955 1)">0</text>
<line x1="197.0" y1="2220.5" x2="211.0" y2="2220.5" stroke="#000" stroke-width="2"/>
<line x1="197.0" y1="2314.5" x2="211.0" y2="2314.5" stroke="#000" stroke-width="2"/>
<line x1="197.0" y1="2408.5" x2="211.0" y2="2408.5" stroke="#000" stroke-width="2"/>
<line x1="197.0" y1="2502.0" x2="211.0" y2="2502.0" stroke="#000" stroke-width="2"/>
<line x1="196.0" y1="2596.0" x2="1821.0" y2="2596.0" stroke="#222" stroke-width="2"/>
<rect x="227.5" y="2128.5" width="63.0" height="6.5" fill="#cccccb"/>
<rect x="227.5" y="2135.0" width="63.0" height="142.0" fill="#0000ff"/>
<rect x="227.5" y="2277.0" width="63.0" height="130.5" fill="#808080"/>
<rect x="227.5" y="2407.5" width="63.0" height="188.5" fill="#000000"/>
<rect x="322.1" y="2128.5" width="63.0" height="20.0" fill="#cccccb"/>
<rect x="322.1" y="2148.5" width="63.0" height="211.0" fill="#0000ff"/>
<rect x="322.1" y="2359.5" width="63.0" height="114.5" fill="#808080"/>
<rect x="322.1" y="2474.0" width="63.0" height="122.0" fill="#000000"/>
<rect x="416.7" y="2128.5" width="63.0" height="43.0" fill="#cccccb"/>
<rect x="416.7" y="2171.5" width="63.0" height="206.0" fill="#0000ff"/>
<rect x="416.7" y="2377.5" width="63.0" height="103.5" fill="#808080"/>
<rect x="416.7" y="2481.0" width="63.0" height="115.0" fill="#000000"/>
<rect x="511.3" y="2128.5" width="63.0" height="54.5" fill="#cccccb"/>
<rect x="511.3" y="2183.0" width="63.0" height="281.5" fill="#0000ff"/>
<rect x="511.3" y="2464.5" width="63.0" height="71.5" fill="#808080"/>
<rect x="511.3" y="2536.0" width="63.0" height="60.0" fill="#000000"/>
<rect x="605.9" y="2128.5" width="63.0" height="57.5" fill="#cccccb"/>
<rect x="605.9" y="2186.0" width="63.0" height="308.5" fill="#0000ff"/>
<rect x="605.9" y="2494.5" width="63.0" height="64.0" fill="#808080"/>
<rect x="605.9" y="2558.5" width="63.0" height="37.5" fill="#000000"/>
<rect x="795.1" y="2127.5" width="63.0" height="7.5" fill="#cccccb"/>
<rect x="795.1" y="2135.0" width="63.0" height="132.5" fill="#0000ff"/>
<rect x="795.1" y="2267.5" width="63.0" height="89.0" fill="#808080"/>
<rect x="795.1" y="2356.5" width="63.0" height="239.5" fill="#000000"/>
<rect x="889.7" y="2127.5" width="63.0" height="50.5" fill="#cccccb"/>
<rect x="889.7" y="2178.0" width="63.0" height="367.0" fill="#0000ff"/>
<rect x="889.7" y="2545.0" width="63.0" height="30.0" fill="#808080"/>
<rect x="889.7" y="2575.0" width="63.0" height="21.0" fill="#000000"/>
<rect x="984.3" y="2127.5" width="63.0" height="7.5" fill="#cccccb"/>
<rect x="984.3" y="2135.0" width="63.0" height="412.5" fill="#0000ff"/>
<rect x="984.3" y="2547.5" width="63.0" height="30.5" fill="#808080"/>
<rect x="984.3" y="2578.0" width="63.0" height="18.0" fill="#000000"/>
<rect x="1078.9" y="2127.5" width="63.0" height="11.5" fill="#cccccb"/>
<rect x="1078.9" y="2139.0" width="63.0" height="411.0" fill="#0000ff"/>
<rect x="1078.9" y="2550.0" width="63.0" height="27.5" fill="#808080"/>
<rect x="1078.9" y="2577.5" width="63.0" height="18.5" fill="#000000"/>
<rect x="1173.5" y="2127.5" width="63.0" height="7.5" fill="#cccccb"/>
<rect x="1173.5" y="2135.0" width="63.0" height="410.0" fill="#0000ff"/>
<rect x="1173.5" y="2545.0" width="63.0" height="36.5" fill="#808080"/>
<rect x="1173.5" y="2581.5" width="63.0" height="14.5" fill="#000000"/>
<rect x="1362.7" y="2128.0" width="63.0" height="7.0" fill="#cccccb"/>
<rect x="1362.7" y="2135.0" width="63.0" height="185.5" fill="#0000ff"/>
<rect x="1362.7" y="2320.5" width="63.0" height="88.0" fill="#808080"/>
<rect x="1362.7" y="2408.5" width="63.0" height="187.5" fill="#000000"/>
<rect x="1457.3" y="2128.0" width="63.0" height="18.5" fill="#cccccb"/>
<rect x="1457.3" y="2146.5" width="63.0" height="212.5" fill="#0000ff"/>
<rect x="1457.3" y="2359.0" width="63.0" height="71.0" fill="#808080"/>
<rect x="1457.3" y="2430.0" width="63.0" height="166.0" fill="#000000"/>
<rect x="1551.9" y="2128.0" width="63.0" height="34.5" fill="#cccccb"/>
<rect x="1551.9" y="2162.5" width="63.0" height="228.5" fill="#0000ff"/>
<rect x="1551.9" y="2391.0" width="63.0" height="51.0" fill="#808080"/>
<rect x="1551.9" y="2442.0" width="63.0" height="154.0" fill="#000000"/>
<rect x="1646.5" y="2128.0" width="63.0" height="29.0" fill="#cccccb"/>
<rect x="1646.5" y="2157.0" width="63.0" height="296.5" fill="#0000ff"/>
<rect x="1646.5" y="2453.5" width="63.0" height="47.5" fill="#808080"/>
<rect x="1646.5" y="2501.0" width="63.0" height="95.0" fill="#000000"/>
<rect x="1741.1" y="2128.0" width="63.0" height="34.5" fill="#cccccb"/>
<rect x="1741.1" y="2162.5" width="63.0" height="361.5" fill="#0000ff"/>
<rect x="1741.1" y="2524.0" width="63.0" height="32.0" fill="#808080"/>
<rect x="1741.1" y="2556.0" width="63.0" height="40.0" fill="#000000"/>
<line x1="259.0" y1="2596.0" x2="259.0" y2="2611.0" stroke="#444" stroke-width="1.6"/>
<line x1="353.6" y1="2596.0" x2="353.6" y2="2611.0" stroke="#444" stroke-width="1.6"/>
<line x1="448.2" y1="2596.0" x2="448.2" y2="2611.0" stroke="#444" stroke-width="1.6"/>
<line x1="542.8" y1="2596.0" x2="542.8" y2="2611.0" stroke="#444" stroke-width="1.6"/>
<line x1="637.4" y1="2596.0" x2="637.4" y2="2611.0" stroke="#444" stroke-width="1.6"/>
<line x1="826.6" y1="2596.0" x2="826.6" y2="2611.0" stroke="#444" stroke-width="1.6"/>
<line x1="921.2" y1="2596.0" x2="921.2" y2="2611.0" stroke="#444" stroke-width="1.6"/>
<line x1="1015.8" y1="2596.0" x2="1015.8" y2="2611.0" stroke="#444" stroke-width="1.6"/>
<line x1="1110.4" y1="2596.0" x2="1110.4" y2="2611.0" stroke="#444" stroke-width="1.6"/>
<line x1="1205.0" y1="2596.0" x2="1205.0" y2="2611.0" stroke="#444" stroke-width="1.6"/>
<line x1="1394.2" y1="2596.0" x2="1394.2" y2="2611.0" stroke="#444" stroke-width="1.6"/>
<line x1="1488.8" y1="2596.0" x2="1488.8" y2="2611.0" stroke="#444" stroke-width="1.6"/>
<line x1="1583.4" y1="2596.0" x2="1583.4" y2="2611.0" stroke="#444" stroke-width="1.6"/>
<line x1="1678.0" y1="2596.0" x2="1678.0" y2="2611.0" stroke="#444" stroke-width="1.6"/>
<line x1="1772.6" y1="2596.0" x2="1772.6" y2="2611.0" stroke="#444" stroke-width="1.6"/>
<text x="0" y="0" font-size="40.5" font-weight="bold" text-anchor="end" transform="translate(267.0 2641.5) rotate(-45)">C</text>
<text x="0" y="0" font-size="40.5" font-weight="bold" text-anchor="end" transform="translate(361.6 2641.5) rotate(-45)">10</text>
<text x="0" y="0" font-size="40.5" font-weight="bold" text-anchor="end" transform="translate(456.2 2641.5) rotate(-45)">25</text>
<text x="0" y="0" font-size="40.5" font-weight="bold" text-anchor="end" transform="translate(550.8 2641.5) rotate(-45)">50</text>
<text x="0" y="0" font-size="40.5" font-weight="bold" text-anchor="end" transform="translate(645.4 2641.5) rotate(-45)">100</text>
<text x="0" y="0" font-size="40.5" font-weight="bold" text-anchor="end" transform="translate(834.6 2641.5) rotate(-45)">C</text>
<text x="0" y="0" font-size="40.5" font-weight="bold" text-anchor="end" transform="translate(929.2 2641.5) rotate(-45)">10</text>
<text x="0" y="0" font-size="40.5" font-weight="bold" text-anchor="end" transform="translate(1023.8 2641.5) rotate(-45)">25</text>
<text x="0" y="0" font-size="40.5" font-weight="bold" text-anchor="end" transform="translate(1118.4 2641.5) rotate(-45)">50</text>
<text x="0" y="0" font-size="40.5" font-weight="bold" text-anchor="end" transform="translate(1213.0 2641.5) rotate(-45)">100</text>
<text x="0" y="0" font-size="40.5" font-weight="bold" text-anchor="end" transform="translate(1402.2 2641.5) rotate(-45)">C</text>
<text x="0" y="0" font-size="40.5" font-weight="bold" text-anchor="end" transform="translate(1496.8 2641.5) rotate(-45)">10</text>
<text x="0" y="0" font-size="40.5" font-weight="bold" text-anchor="end" transform="translate(1591.4 2641.5) rotate(-45)">25</text>
<text x="0" y="0" font-size="40.5" font-weight="bold" text-anchor="end" transform="translate(1686.0 2641.5) rotate(-45)">50</text>
<text x="0" y="0" font-size="40.5" font-weight="bold" text-anchor="end" transform="translate(1780.6 2641.5) rotate(-45)">100</text>
<text x="0" y="0" font-size="39" text-anchor="middle" fill="#616161" transform="translate(446.75 2055.0) scale(0.967 1.0)">HGUE-C-1</text>
<line x1="227.5" y1="2073.5" x2="669.0" y2="2073.5" stroke="#555" stroke-width="2"/>
<text x="0" y="0" font-size="39" text-anchor="middle" fill="#616161" transform="translate(1025.25 2055.0) scale(1.025 1.0)">HT-29</text>
<line x1="805.5" y1="2073.5" x2="1246.0" y2="2073.5" stroke="#555" stroke-width="2"/>
<text x="0" y="0" font-size="39" text-anchor="middle" fill="#616161" transform="translate(1584.50 2055.0) scale(1.02 1.0)">SW-480</text>
<line x1="1363.0" y1="2073.5" x2="1805.0" y2="2073.5" stroke="#555" stroke-width="2"/>
<rect x="1841.5" y="2123.5" width="59.5" height="20.5" fill="#cccccb"/>
<text x="0" y="0" font-size="38.5" transform="translate(1934 2146.5) scale(0.962 1)">SUBG1</text>
<rect x="1841.5" y="2165.0" width="59.5" height="20.5" fill="#0000ff"/>
<text x="0" y="0" font-size="38.5" transform="translate(1934 2188.0) scale(0.962 1)">G2/M</text>
<rect x="1841.5" y="2208.5" width="59.5" height="20.5" fill="#808080"/>
<text x="0" y="0" font-size="38.5" transform="translate(1934 2231.5) scale(0.962 1)">S</text>
<rect x="1841.5" y="2254.0" width="59.5" height="20.5" fill="#000000"/>
<text x="0" y="0" font-size="38.5" transform="translate(1934 2277.0) scale(0.962 1)">G0/G1</text>
<line x1="244.0" y1="2127.5" x2="274.0" y2="2127.5" stroke="#000" stroke-width="2"/>
<line x1="244.0" y1="2128.5" x2="274.0" y2="2128.5" stroke="#000" stroke-width="2"/>
<line x1="244.0" y1="2271.0" x2="274.0" y2="2271.0" stroke="#000" stroke-width="2"/>
<line x1="259.0" y1="2271.0" x2="259.0" y2="2277.0" stroke="#000" stroke-width="1.8"/>
<line x1="244.0" y1="2404.0" x2="274.0" y2="2404.0" stroke="#000" stroke-width="2"/>
<line x1="259.0" y1="2404.0" x2="259.0" y2="2407.5" stroke="#000" stroke-width="1.8"/>
<line x1="338.6" y1="2146.0" x2="368.6" y2="2146.0" stroke="#000" stroke-width="2"/>
<line x1="353.6" y1="2146.0" x2="353.6" y2="2148.5" stroke="#000" stroke-width="1.8"/>
<line x1="338.6" y1="2356.0" x2="368.6" y2="2356.0" stroke="#000" stroke-width="2"/>
<line x1="353.6" y1="2356.0" x2="353.6" y2="2359.5" stroke="#000" stroke-width="1.8"/>
<line x1="338.6" y1="2470.5" x2="368.6" y2="2470.5" stroke="#000" stroke-width="2"/>
<line x1="353.6" y1="2470.5" x2="353.6" y2="2474.0" stroke="#000" stroke-width="1.8"/>
<line x1="433.2" y1="2126.5" x2="463.2" y2="2126.5" stroke="#000" stroke-width="2"/>
<line x1="433.2" y1="2375.0" x2="463.2" y2="2375.0" stroke="#000" stroke-width="2"/>
<line x1="448.2" y1="2375.0" x2="448.2" y2="2377.5" stroke="#000" stroke-width="1.8"/>
<line x1="433.2" y1="2477.0" x2="463.2" y2="2477.0" stroke="#000" stroke-width="2"/>
<line x1="448.2" y1="2477.0" x2="448.2" y2="2481.0" stroke="#000" stroke-width="1.8"/>
<line x1="527.8" y1="2126.5" x2="557.8" y2="2126.5" stroke="#000" stroke-width="2"/>
<line x1="527.8" y1="2182.0" x2="557.8" y2="2182.0" stroke="#000" stroke-width="2"/>
<line x1="542.8" y1="2182.0" x2="542.8" y2="2183.0" stroke="#000" stroke-width="1.8"/>
<line x1="622.4" y1="2126.5" x2="652.4" y2="2126.5" stroke="#000" stroke-width="2"/>
<line x1="622.4" y1="2491.0" x2="652.4" y2="2491.0" stroke="#000" stroke-width="2"/>
<line x1="637.4" y1="2491.0" x2="637.4" y2="2494.5" stroke="#000" stroke-width="1.8"/>
<line x1="811.6" y1="2127.5" x2="841.6" y2="2127.5" stroke="#000" stroke-width="2"/>
<line x1="811.6" y1="2128.5" x2="841.6" y2="2128.5" stroke="#000" stroke-width="2"/>
<line x1="811.6" y1="2262.0" x2="841.6" y2="2262.0" stroke="#000" stroke-width="2"/>
<line x1="826.6" y1="2262.0" x2="826.6" y2="2267.5" stroke="#000" stroke-width="1.8"/>
<line x1="811.6" y1="2351.0" x2="841.6" y2="2351.0" stroke="#000" stroke-width="2"/>
<line x1="826.6" y1="2351.0" x2="826.6" y2="2356.5" stroke="#000" stroke-width="1.8"/>
<line x1="906.2" y1="2118.0" x2="936.2" y2="2118.0" stroke="#000" stroke-width="2"/>
<line x1="921.2" y1="2118.0" x2="921.2" y2="2127.5" stroke="#000" stroke-width="1.8"/>
<line x1="906.2" y1="2175.0" x2="936.2" y2="2175.0" stroke="#777" stroke-width="2"/>
<line x1="921.2" y1="2175.0" x2="921.2" y2="2178.0" stroke="#777" stroke-width="1.8"/>
<line x1="1000.8" y1="2124.5" x2="1030.8" y2="2124.5" stroke="#000" stroke-width="2"/>
<line x1="1015.8" y1="2124.5" x2="1015.8" y2="2135.0" stroke="#000" stroke-width="1.8"/>
<line x1="1095.4" y1="2124.5" x2="1125.4" y2="2124.5" stroke="#000" stroke-width="2"/>
<line x1="1110.4" y1="2124.5" x2="1110.4" y2="2139.0" stroke="#000" stroke-width="1.8"/>
<line x1="1190.0" y1="2122.0" x2="1220.0" y2="2122.0" stroke="#000" stroke-width="2"/>
<line x1="1205.0" y1="2122.0" x2="1205.0" y2="2135.0" stroke="#000" stroke-width="1.8"/>
<line x1="1190.0" y1="2127.5" x2="1220.0" y2="2127.5" stroke="#000" stroke-width="2"/>
<line x1="1190.0" y1="2542.5" x2="1220.0" y2="2542.5" stroke="#000" stroke-width="2"/>
<line x1="1205.0" y1="2542.5" x2="1205.0" y2="2545.0" stroke="#000" stroke-width="1.8"/>
<line x1="1379.2" y1="2125.0" x2="1409.2" y2="2125.0" stroke="#000" stroke-width="2"/>
<line x1="1379.2" y1="2126.0" x2="1409.2" y2="2126.0" stroke="#000" stroke-width="2"/>
<line x1="1379.2" y1="2317.5" x2="1409.2" y2="2317.5" stroke="#000" stroke-width="2"/>
<line x1="1394.2" y1="2317.5" x2="1394.2" y2="2320.5" stroke="#000" stroke-width="1.8"/>
<line x1="1379.2" y1="2406.0" x2="1409.2" y2="2406.0" stroke="#000" stroke-width="2"/>
<line x1="1394.2" y1="2406.0" x2="1394.2" y2="2408.5" stroke="#000" stroke-width="1.8"/>
<line x1="1473.8" y1="2124.0" x2="1503.8" y2="2124.0" stroke="#000" stroke-width="2"/>
<line x1="1473.8" y1="2427.0" x2="1503.8" y2="2427.0" stroke="#000" stroke-width="2"/>
<line x1="1488.8" y1="2427.0" x2="1488.8" y2="2430.0" stroke="#000" stroke-width="1.8"/>
<line x1="1583.4" y1="2121.0" x2="1583.4" y2="2129.0" stroke="#000" stroke-width="1.8"/>
<line x1="1583.4" y1="2158.0" x2="1583.4" y2="2162.5" stroke="#000" stroke-width="1.8"/>
<line x1="1568.4" y1="2387.5" x2="1598.4" y2="2387.5" stroke="#000" stroke-width="2"/>
<line x1="1583.4" y1="2387.5" x2="1583.4" y2="2391.0" stroke="#000" stroke-width="1.8"/>
<line x1="1568.4" y1="2433.5" x2="1598.4" y2="2433.5" stroke="#000" stroke-width="2"/>
<line x1="1583.4" y1="2433.5" x2="1583.4" y2="2442.0" stroke="#000" stroke-width="1.8"/>
<line x1="1678.0" y1="2118.0" x2="1678.0" y2="2128.0" stroke="#000" stroke-width="1.8"/>
<line x1="1663.0" y1="2151.7" x2="1693.0" y2="2151.7" stroke="#777" stroke-width="2"/>
<line x1="1678.0" y1="2151.7" x2="1678.0" y2="2157.0" stroke="#777" stroke-width="1.8"/>
<line x1="1757.6" y1="2122.0" x2="1787.6" y2="2122.0" stroke="#000" stroke-width="2"/>
<line x1="1772.6" y1="2122.0" x2="1772.6" y2="2128.0" stroke="#000" stroke-width="1.8"/>
<line x1="1772.6" y1="2150.0" x2="1772.6" y2="2162.5" stroke="#000" stroke-width="1.8"/>
<line x1="1757.6" y1="2521.0" x2="1787.6" y2="2521.0" stroke="#000" stroke-width="2"/>
<line x1="1772.6" y1="2521.0" x2="1772.6" y2="2524.0" stroke="#000" stroke-width="1.8"/>
<text x="351.8" y="2129.0" font-size="44.5" font-weight="normal" text-anchor="middle" fill="#000" letter-spacing="2.3" stroke="#000" stroke-width="0.5">****</text>
<text x="351.8" y="2157.0" font-size="44.5" font-weight="normal" text-anchor="middle" fill="#000" letter-spacing="2.3" stroke="#000" stroke-width="0.5">****</text>
<text x="351.8" y="2352.0" font-size="44.5" font-weight="normal" text-anchor="middle" fill="#000" letter-spacing="2.3" stroke="#000" stroke-width="0.5">**</text>
<text x="351.8" y="2477.0" font-size="44.5" font-weight="normal" text-anchor="middle" fill="#000" letter-spacing="2.3" stroke="#000" stroke-width="0.5">***</text>
<text x="446.3" y="2129.0" font-size="44.5" font-weight="normal" text-anchor="middle" fill="#000" letter-spacing="2.3" stroke="#000" stroke-width="0.5">****</text>
<text x="446.3" y="2174.5" font-size="44.5" font-weight="normal" text-anchor="middle" fill="#000" letter-spacing="2.3" stroke="#000" stroke-width="0.5">****</text>
<text x="446.3" y="2367.0" font-size="44.5" font-weight="normal" text-anchor="middle" fill="#000" letter-spacing="2.3" stroke="#000" stroke-width="0.5">****</text>
<text x="446.3" y="2479.5" font-size="44.5" font-weight="normal" text-anchor="middle" fill="#000" letter-spacing="2.3" stroke="#000" stroke-width="0.5">****</text>
<text x="544.8" y="2129.0" font-size="44.5" font-weight="normal" text-anchor="middle" fill="#000" letter-spacing="2.3" stroke="#000" stroke-width="0.5">****</text>
<text x="544.8" y="2190.5" font-size="44.5" font-weight="normal" text-anchor="middle" fill="#000" letter-spacing="2.3" stroke="#000" stroke-width="0.5">****</text>
<text x="544.8" y="2445.5" font-size="44.5" font-weight="normal" text-anchor="middle" fill="#000" letter-spacing="2.3" stroke="#000" stroke-width="0.5">****</text>
<text x="544.8" y="2536.5" font-size="44.5" font-weight="normal" text-anchor="middle" fill="#000" letter-spacing="2.3" stroke="#000" stroke-width="0.5">****</text>
<text x="644.5" y="2129.0" font-size="44.5" font-weight="normal" text-anchor="middle" fill="#000" letter-spacing="2.3" stroke="#000" stroke-width="0.5">*</text>
<text x="644.5" y="2193.0" font-size="44.5" font-weight="normal" text-anchor="middle" fill="#000" letter-spacing="2.3" stroke="#000" stroke-width="0.5">****</text>
<text x="644.5" y="2450.5" font-size="44.5" font-weight="normal" text-anchor="middle" fill="#000" letter-spacing="2.3" stroke="#000" stroke-width="0.5">****</text>
<text x="644.5" y="2556.5" font-size="44.5" font-weight="normal" text-anchor="middle" fill="#000" letter-spacing="2.3" stroke="#000" stroke-width="0.5">****</text>
<text x="918.3" y="2120.5" font-size="44.5" font-weight="normal" text-anchor="middle" fill="#000" letter-spacing="2.3" stroke="#000" stroke-width="0.5">****</text>
<text x="918.3" y="2180.5" font-size="44.5" font-weight="normal" text-anchor="middle" fill="#000" letter-spacing="2.3" stroke="#000" stroke-width="0.5">****</text>
<text x="918.3" y="2545.5" font-size="44.5" font-weight="normal" text-anchor="middle" fill="#000" letter-spacing="2.3" stroke="#000" stroke-width="0.5">****</text>
<text x="918.3" y="2584.0" font-size="44.5" font-weight="normal" text-anchor="middle" fill="#000" letter-spacing="2.3" stroke="#000" stroke-width="0.5">****</text>
<text x="1017.6" y="2180.5" font-size="44.5" font-weight="normal" text-anchor="middle" fill="#000" letter-spacing="2.3" stroke="#000" stroke-width="0.5">****</text>
<text x="1017.6" y="2545.5" font-size="44.5" font-weight="normal" text-anchor="middle" fill="#000" letter-spacing="2.3" stroke="#000" stroke-width="0.5">****</text>
<text x="1017.6" y="2584.0" font-size="44.5" font-weight="normal" text-anchor="middle" fill="#000" letter-spacing="2.3" stroke="#000" stroke-width="0.5">****</text>
<text x="1114.1" y="2180.5" font-size="44.5" font-weight="normal" text-anchor="middle" fill="#000" letter-spacing="2.3" stroke="#000" stroke-width="0.5">****</text>
<text x="1114.1" y="2545.5" font-size="44.5" font-weight="normal" text-anchor="middle" fill="#000" letter-spacing="2.3" stroke="#000" stroke-width="0.5">****</text>
<text x="1114.1" y="2584.0" font-size="44.5" font-weight="normal" text-anchor="middle" fill="#000" letter-spacing="2.3" stroke="#000" stroke-width="0.5">****</text>
<text x="1211.7" y="2120.5" font-size="44.5" font-weight="normal" text-anchor="middle" fill="#000" letter-spacing="2.3" stroke="#000" stroke-width="0.5">*</text>
<text x="1210.7" y="2180.5" font-size="44.5" font-weight="normal" text-anchor="middle" fill="#000" letter-spacing="2.3" stroke="#000" stroke-width="0.5">****</text>
<text x="1210.7" y="2545.5" font-size="44.5" font-weight="normal" text-anchor="middle" fill="#000" letter-spacing="2.3" stroke="#000" stroke-width="0.5">****</text>
<text x="1210.7" y="2584.0" font-size="44.5" font-weight="normal" text-anchor="middle" fill="#000" letter-spacing="2.3" stroke="#000" stroke-width="0.5">****</text>
<text x="1490.0" y="2159.0" font-size="44.5" font-weight="normal" text-anchor="middle" fill="#000" letter-spacing="2.3" stroke="#000" stroke-width="0.5">**</text>
<text x="1490.0" y="2366.5" font-size="44.5" font-weight="normal" text-anchor="middle" fill="#000" letter-spacing="2.3" stroke="#000" stroke-width="0.5">***</text>
<text x="1490.0" y="2435.5" font-size="44.5" font-weight="normal" text-anchor="middle" fill="#000" letter-spacing="2.3" stroke="#000" stroke-width="0.5">****</text>
<text x="1585.0" y="2124.5" font-size="44.5" font-weight="normal" text-anchor="middle" fill="#000" letter-spacing="2.3" stroke="#000" stroke-width="0.5">**</text>
<text x="1585.0" y="2160.5" font-size="44.5" font-weight="normal" text-anchor="middle" fill="#000" letter-spacing="2.3" stroke="#000" stroke-width="0.5">****</text>
<text x="1585.0" y="2435.5" font-size="44.5" font-weight="normal" text-anchor="middle" fill="#000" letter-spacing="2.3" stroke="#000" stroke-width="0.5">****</text>
<text x="1682.7" y="2124.5" font-size="44.5" font-weight="normal" text-anchor="middle" fill="#000" letter-spacing="2.3" stroke="#000" stroke-width="0.5">**</text>
<text x="1682.7" y="2160.5" font-size="44.5" font-weight="normal" text-anchor="middle" fill="#000" letter-spacing="2.3" stroke="#000" stroke-width="0.5">****</text>
<text x="1682.7" y="2504.5" font-size="44.5" font-weight="normal" text-anchor="middle" fill="#000" letter-spacing="2.3" stroke="#000" stroke-width="0.5">****</text>
<text x="1775.8" y="2124.5" font-size="44.5" font-weight="normal" text-anchor="middle" fill="#000" letter-spacing="2.3" stroke="#000" stroke-width="0.5">**</text>
<text x="1775.8" y="2160.5" font-size="44.5" font-weight="normal" text-anchor="middle" fill="#000" letter-spacing="2.3" stroke="#000" stroke-width="0.5">****</text>
<text x="1775.8" y="2567.0" font-size="44.5" font-weight="normal" text-anchor="middle" fill="#000" letter-spacing="2.3" stroke="#000" stroke-width="0.5">****</text>
<text x="0" y="0" font-size="48.5" font-weight="bold" text-anchor="middle" transform="translate(1009 2892.7) scale(0.96 1)">NB Extract</text>
<text x="0" y="0" font-size="51" font-weight="bold" transform="translate(14.5 2995.9) scale(0.93 1)">D</text>
<text x="0" y="0" font-size="51" font-weight="bold" transform="translate(53.3 2995.9) scale(0.85 1)">)</text>
<text x="0" y="0" font-size="46" font-weight="bold" text-anchor="middle" transform="translate(53.4 3259.8) rotate(-90)">Cell cycle phases (%)</text>
<text x="0" y="0" font-size="43.5" font-weight="bold" text-anchor="end" transform="translate(189.5 2993.9) scale(0.955 1)">120</text>
<text x="0" y="0" font-size="43.5" font-weight="bold" text-anchor="end" transform="translate(189.5 3087.9) scale(0.955 1)">100</text>
<text x="0" y="0" font-size="43.5" font-weight="bold" text-anchor="end" transform="translate(189.5 3179.3) scale(0.955 1)">80</text>
<text x="0" y="0" font-size="43.5" font-weight="bold" text-anchor="end" transform="translate(189.5 3273.3) scale(0.955 1)">60</text>
<text x="0" y="0" font-size="43.5" font-weight="bold" text-anchor="end" transform="translate(189.5 3365.4) scale(0.955 1)">40</text>
<text x="0" y="0" font-size="43.5" font-weight="bold" text-anchor="end" transform="translate(189.5 3459.3) scale(0.955 1)">20</text>
<text x="0" y="0" font-size="43.5" font-weight="bold" text-anchor="end" transform="translate(189.5 3551.4) scale(0.955 1)">0</text>
<line x1="193.0" y1="3075.0" x2="211.0" y2="3075.0" stroke="#000" stroke-width="2"/>
<line x1="193.0" y1="3166.4" x2="211.0" y2="3166.4" stroke="#c8c8c8" stroke-width="2"/>
<line x1="193.0" y1="3260.4" x2="211.0" y2="3260.4" stroke="#000" stroke-width="2"/>
<line x1="193.0" y1="3446.4" x2="211.0" y2="3446.4" stroke="#000" stroke-width="2"/>
<line x1="210.5" y1="2980.3" x2="210.5" y2="3538.9" stroke="#000" stroke-width="2.2"/>
<rect x="225.5" y="3074.0" width="62.0" height="50.0" fill="#cccccb"/>
<rect x="225.5" y="3124.0" width="62.0" height="170.0" fill="#107f7e"/>
<rect x="225.5" y="3294.0" width="62.0" height="91.0" fill="#808080"/>
<rect x="225.5" y="3385.0" width="62.0" height="153.5" fill="#000000"/>
<rect x="319.2" y="3076.5" width="62.0" height="112.0" fill="#cccccb"/>
<rect x="319.2" y="3188.5" width="62.0" height="229.0" fill="#107f7e"/>
<rect x="319.2" y="3417.5" width="62.0" height="71.0" fill="#808080"/>
<rect x="319.2" y="3488.5" width="62.0" height="50.0" fill="#000000"/>
<rect x="413.0" y="3074.0" width="62.0" height="141.5" fill="#cccccb"/>
<rect x="413.0" y="3215.5" width="62.0" height="206.5" fill="#107f7e"/>
<rect x="413.0" y="3422.0" width="62.0" height="62.0" fill="#808080"/>
<rect x="413.0" y="3484.0" width="62.0" height="54.5" fill="#000000"/>
<rect x="506.8" y="3074.0" width="62.0" height="133.0" fill="#cccccb"/>
<rect x="506.8" y="3207.0" width="62.0" height="213.0" fill="#107f7e"/>
<rect x="506.8" y="3420.0" width="62.0" height="64.0" fill="#808080"/>
<rect x="506.8" y="3484.0" width="62.0" height="54.5" fill="#000000"/>
<rect x="600.5" y="3074.0" width="62.0" height="204.0" fill="#cccccb"/>
<rect x="600.5" y="3278.0" width="62.0" height="164.5" fill="#107f7e"/>
<rect x="600.5" y="3442.5" width="62.0" height="51.0" fill="#808080"/>
<rect x="600.5" y="3493.5" width="62.0" height="45.0" fill="#000000"/>
<rect x="788.0" y="3074.0" width="62.0" height="9.0" fill="#cccccb"/>
<rect x="788.0" y="3083.0" width="62.0" height="101.0" fill="#107f7e"/>
<rect x="788.0" y="3184.0" width="62.0" height="110.0" fill="#808080"/>
<rect x="788.0" y="3294.0" width="62.0" height="244.5" fill="#000000"/>
<rect x="881.8" y="3074.0" width="62.0" height="25.0" fill="#cccccb"/>
<rect x="881.8" y="3099.0" width="62.0" height="376.0" fill="#107f7e"/>
<rect x="881.8" y="3475.0" width="62.0" height="20.0" fill="#808080"/>
<rect x="881.8" y="3495.0" width="62.0" height="43.5" fill="#000000"/>
<rect x="975.5" y="3074.0" width="62.0" height="23.0" fill="#cccccb"/>
<rect x="975.5" y="3097.0" width="62.0" height="378.0" fill="#107f7e"/>
<rect x="975.5" y="3475.0" width="62.0" height="18.0" fill="#808080"/>
<rect x="975.5" y="3493.0" width="62.0" height="45.5" fill="#000000"/>
<rect x="1069.2" y="3074.0" width="62.0" height="23.0" fill="#cccccb"/>
<rect x="1069.2" y="3097.0" width="62.0" height="364.0" fill="#107f7e"/>
<rect x="1069.2" y="3461.0" width="62.0" height="30.0" fill="#808080"/>
<rect x="1069.2" y="3491.0" width="62.0" height="47.5" fill="#000000"/>
<rect x="1163.0" y="3074.0" width="62.0" height="16.0" fill="#cccccb"/>
<rect x="1163.0" y="3090.0" width="62.0" height="373.5" fill="#107f7e"/>
<rect x="1163.0" y="3463.5" width="62.0" height="29.5" fill="#808080"/>
<rect x="1163.0" y="3493.0" width="62.0" height="45.5" fill="#000000"/>
<rect x="1350.5" y="3074.0" width="62.0" height="11.0" fill="#cccccb"/>
<rect x="1350.5" y="3085.0" width="62.0" height="140.0" fill="#107f7e"/>
<rect x="1350.5" y="3225.0" width="62.0" height="114.5" fill="#808080"/>
<rect x="1350.5" y="3339.5" width="62.0" height="199.0" fill="#000000"/>
<rect x="1444.2" y="3074.0" width="62.0" height="20.0" fill="#cccccb"/>
<rect x="1444.2" y="3094.0" width="62.0" height="378.5" fill="#107f7e"/>
<rect x="1444.2" y="3472.5" width="62.0" height="51.0" fill="#808080"/>
<rect x="1444.2" y="3523.5" width="62.0" height="15.0" fill="#000000"/>
<rect x="1538.0" y="3074.0" width="62.0" height="36.5" fill="#cccccb"/>
<rect x="1538.0" y="3110.5" width="62.0" height="387.0" fill="#107f7e"/>
<rect x="1538.0" y="3497.5" width="62.0" height="32.5" fill="#808080"/>
<rect x="1538.0" y="3530.0" width="62.0" height="8.5" fill="#000000"/>
<rect x="1631.8" y="3074.0" width="62.0" height="29.5" fill="#cccccb"/>
<rect x="1631.8" y="3103.5" width="62.0" height="387.5" fill="#107f7e"/>
<rect x="1631.8" y="3491.0" width="62.0" height="36.5" fill="#808080"/>
<rect x="1631.8" y="3527.5" width="62.0" height="11.0" fill="#000000"/>
<rect x="1725.5" y="3074.0" width="62.0" height="22.5" fill="#cccccb"/>
<rect x="1725.5" y="3096.5" width="62.0" height="391.5" fill="#107f7e"/>
<rect x="1725.5" y="3488.0" width="62.0" height="37.0" fill="#808080"/>
<rect x="1725.5" y="3525.0" width="62.0" height="13.5" fill="#000000"/>
<line x1="256.5" y1="3538.5" x2="256.5" y2="3553.5" stroke="#444" stroke-width="1.6"/>
<line x1="350.2" y1="3538.5" x2="350.2" y2="3553.5" stroke="#444" stroke-width="1.6"/>
<line x1="444.0" y1="3538.5" x2="444.0" y2="3553.5" stroke="#444" stroke-width="1.6"/>
<line x1="537.8" y1="3538.5" x2="537.8" y2="3553.5" stroke="#444" stroke-width="1.6"/>
<line x1="631.5" y1="3538.5" x2="631.5" y2="3553.5" stroke="#444" stroke-width="1.6"/>
<line x1="819.0" y1="3538.5" x2="819.0" y2="3553.5" stroke="#444" stroke-width="1.6"/>
<line x1="912.8" y1="3538.5" x2="912.8" y2="3553.5" stroke="#444" stroke-width="1.6"/>
<line x1="1006.5" y1="3538.5" x2="1006.5" y2="3553.5" stroke="#444" stroke-width="1.6"/>
<line x1="1100.2" y1="3538.5" x2="1100.2" y2="3553.5" stroke="#444" stroke-width="1.6"/>
<line x1="1194.0" y1="3538.5" x2="1194.0" y2="3553.5" stroke="#444" stroke-width="1.6"/>
<line x1="1381.5" y1="3538.5" x2="1381.5" y2="3553.5" stroke="#444" stroke-width="1.6"/>
<line x1="1475.2" y1="3538.5" x2="1475.2" y2="3553.5" stroke="#444" stroke-width="1.6"/>
<line x1="1569.0" y1="3538.5" x2="1569.0" y2="3553.5" stroke="#444" stroke-width="1.6"/>
<line x1="1662.8" y1="3538.5" x2="1662.8" y2="3553.5" stroke="#444" stroke-width="1.6"/>
<line x1="1756.5" y1="3538.5" x2="1756.5" y2="3553.5" stroke="#444" stroke-width="1.6"/>
<text x="0" y="0" font-size="42.5" font-weight="bold" text-anchor="end" transform="translate(264.5 3584.0) rotate(-45)">C</text>
<text x="0" y="0" font-size="42.5" font-weight="bold" text-anchor="end" transform="translate(358.2 3584.0) rotate(-45)">1</text>
<text x="0" y="0" font-size="42.5" font-weight="bold" text-anchor="end" transform="translate(452.0 3584.0) rotate(-45)">5</text>
<text x="0" y="0" font-size="42.5" font-weight="bold" text-anchor="end" transform="translate(545.8 3584.0) rotate(-45)">10</text>
<text x="0" y="0" font-size="42.5" font-weight="bold" text-anchor="end" transform="translate(639.5 3584.0) rotate(-45)">25</text>
<text x="0" y="0" font-size="42.5" font-weight="bold" text-anchor="end" transform="translate(827.0 3584.0) rotate(-45)">C</text>
<text x="0" y="0" font-size="42.5" font-weight="bold" text-anchor="end" transform="translate(920.8 3584.0) rotate(-45)">1</text>
<text x="0" y="0" font-size="42.5" font-weight="bold" text-anchor="end" transform="translate(1014.5 3584.0) rotate(-45)">5</text>
<text x="0" y="0" font-size="42.5" font-weight="bold" text-anchor="end" transform="translate(1108.2 3584.0) rotate(-45)">10</text>
<text x="0" y="0" font-size="42.5" font-weight="bold" text-anchor="end" transform="translate(1202.0 3584.0) rotate(-45)">25</text>
<text x="0" y="0" font-size="42.5" font-weight="bold" text-anchor="end" transform="translate(1389.5 3584.0) rotate(-45)">C</text>
<text x="0" y="0" font-size="42.5" font-weight="bold" text-anchor="end" transform="translate(1483.2 3584.0) rotate(-45)">1</text>
<text x="0" y="0" font-size="42.5" font-weight="bold" text-anchor="end" transform="translate(1577.0 3584.0) rotate(-45)">5</text>
<text x="0" y="0" font-size="42.5" font-weight="bold" text-anchor="end" transform="translate(1670.8 3584.0) rotate(-45)">10</text>
<text x="0" y="0" font-size="42.5" font-weight="bold" text-anchor="end" transform="translate(1764.5 3584.0) rotate(-45)">25</text>
<text x="0" y="0" font-size="39" text-anchor="middle" fill="#616161" transform="translate(443.25 3001.2) scale(0.967 1.0)">HGUE-C-1</text>
<line x1="225.5" y1="3020.0" x2="662.5" y2="3020.0" stroke="#555" stroke-width="2"/>
<text x="0" y="0" font-size="39" text-anchor="middle" fill="#616161" transform="translate(1016.50 3001.2) scale(1.025 1.0)">HT-29</text>
<line x1="798.0" y1="3020.0" x2="1235.0" y2="3020.0" stroke="#555" stroke-width="2"/>
<text x="0" y="0" font-size="39" text-anchor="middle" fill="#616161" transform="translate(1569.00 3001.2) scale(1.02 1.0)">SW-480</text>
<line x1="1349.5" y1="3020.0" x2="1786.5" y2="3020.0" stroke="#555" stroke-width="2"/>
<rect x="1825.5" y="3071.5" width="59.5" height="20.5" fill="#cccccb"/>
<text x="0" y="0" font-size="38.5" transform="translate(1918 3094.5) scale(0.962 1)">SUBG1</text>
<rect x="1825.5" y="3113.0" width="59.5" height="20.5" fill="#107f7e"/>
<text x="0" y="0" font-size="38.5" transform="translate(1918 3136.0) scale(0.962 1)">G2/M</text>
<rect x="1825.5" y="3156.0" width="59.5" height="20.5" fill="#808080"/>
<text x="0" y="0" font-size="38.5" transform="translate(1918 3179.0) scale(0.962 1)">S</text>
<rect x="1825.5" y="3201.5" width="59.5" height="20.5" fill="#000000"/>
<text x="0" y="0" font-size="38.5" transform="translate(1918 3224.5) scale(0.962 1)">G0/G1</text>
<line x1="241.5" y1="3118.5" x2="271.5" y2="3118.5" stroke="#000" stroke-width="2"/>
<line x1="256.5" y1="3118.5" x2="256.5" y2="3124.0" stroke="#000" stroke-width="1.8"/>
<line x1="241.5" y1="3379.5" x2="271.5" y2="3379.5" stroke="#000" stroke-width="2"/>
<line x1="256.5" y1="3379.5" x2="256.5" y2="3385.0" stroke="#000" stroke-width="1.8"/>
<line x1="335.2" y1="3067.5" x2="365.2" y2="3067.5" stroke="#000" stroke-width="2"/>
<line x1="350.2" y1="3067.5" x2="350.2" y2="3076.5" stroke="#000" stroke-width="1.8"/>
<line x1="335.2" y1="3179.5" x2="365.2" y2="3179.5" stroke="#000" stroke-width="2"/>
<line x1="350.2" y1="3179.5" x2="350.2" y2="3188.5" stroke="#000" stroke-width="1.8"/>
<line x1="429.0" y1="3070.0" x2="459.0" y2="3070.0" stroke="#777" stroke-width="2"/>
<line x1="444.0" y1="3070.0" x2="444.0" y2="3074.0" stroke="#777" stroke-width="1.8"/>
<line x1="429.0" y1="3210.0" x2="459.0" y2="3210.0" stroke="#000" stroke-width="2"/>
<line x1="444.0" y1="3210.0" x2="444.0" y2="3215.5" stroke="#000" stroke-width="1.8"/>
<line x1="429.0" y1="3480.0" x2="459.0" y2="3480.0" stroke="#000" stroke-width="2"/>
<line x1="444.0" y1="3480.0" x2="444.0" y2="3484.0" stroke="#000" stroke-width="1.8"/>
<line x1="522.8" y1="3070.0" x2="552.8" y2="3070.0" stroke="#000" stroke-width="2"/>
<line x1="537.8" y1="3070.0" x2="537.8" y2="3074.0" stroke="#000" stroke-width="1.8"/>
<line x1="522.8" y1="3418.5" x2="552.8" y2="3418.5" stroke="#000" stroke-width="2"/>
<line x1="537.8" y1="3418.5" x2="537.8" y2="3420.0" stroke="#000" stroke-width="1.8"/>
<line x1="616.5" y1="3067.5" x2="646.5" y2="3067.5" stroke="#000" stroke-width="2"/>
<line x1="631.5" y1="3067.5" x2="631.5" y2="3074.0" stroke="#000" stroke-width="1.8"/>
<line x1="616.5" y1="3271.5" x2="646.5" y2="3271.5" stroke="#000" stroke-width="2"/>
<line x1="631.5" y1="3271.5" x2="631.5" y2="3278.0" stroke="#000" stroke-width="1.8"/>
<line x1="616.5" y1="3441.0" x2="646.5" y2="3441.0" stroke="#000" stroke-width="2"/>
<line x1="631.5" y1="3441.0" x2="631.5" y2="3442.5" stroke="#000" stroke-width="1.8"/>
<line x1="804.0" y1="3071.0" x2="834.0" y2="3071.0" stroke="#000" stroke-width="2"/>
<line x1="819.0" y1="3071.0" x2="819.0" y2="3083.0" stroke="#000" stroke-width="1.8"/>
<line x1="804.0" y1="3081.0" x2="834.0" y2="3081.0" stroke="#000" stroke-width="2"/>
<line x1="804.0" y1="3183.0" x2="834.0" y2="3183.0" stroke="#000" stroke-width="2"/>
<line x1="819.0" y1="3183.0" x2="819.0" y2="3184.0" stroke="#000" stroke-width="1.8"/>
<line x1="804.0" y1="3287.5" x2="834.0" y2="3287.5" stroke="#000" stroke-width="2"/>
<line x1="819.0" y1="3287.5" x2="819.0" y2="3294.0" stroke="#000" stroke-width="1.8"/>
<line x1="897.8" y1="3072.5" x2="927.8" y2="3072.5" stroke="#000" stroke-width="2"/>
<line x1="912.8" y1="3072.5" x2="912.8" y2="3074.0" stroke="#000" stroke-width="1.8"/>
<line x1="991.5" y1="3068.0" x2="1021.5" y2="3068.0" stroke="#000" stroke-width="2"/>
<line x1="1006.5" y1="3068.0" x2="1006.5" y2="3074.0" stroke="#000" stroke-width="1.8"/>
<line x1="991.5" y1="3096.0" x2="1021.5" y2="3096.0" stroke="#000" stroke-width="2"/>
<line x1="1006.5" y1="3096.0" x2="1006.5" y2="3097.0" stroke="#000" stroke-width="1.8"/>
<line x1="1085.2" y1="3068.0" x2="1115.2" y2="3068.0" stroke="#000" stroke-width="2"/>
<line x1="1100.2" y1="3068.0" x2="1100.2" y2="3074.0" stroke="#000" stroke-width="1.8"/>
<line x1="1085.2" y1="3095.5" x2="1115.2" y2="3095.5" stroke="#000" stroke-width="2"/>
<line x1="1100.2" y1="3095.5" x2="1100.2" y2="3097.0" stroke="#000" stroke-width="1.8"/>
<line x1="1085.2" y1="3457.5" x2="1115.2" y2="3457.5" stroke="#000" stroke-width="2"/>
<line x1="1100.2" y1="3457.5" x2="1100.2" y2="3461.0" stroke="#000" stroke-width="1.8"/>
<line x1="1179.0" y1="3086.8" x2="1209.0" y2="3086.8" stroke="#000" stroke-width="2"/>
<line x1="1194.0" y1="3086.8" x2="1194.0" y2="3062.5" stroke="#000" stroke-width="1.8"/>
<line x1="1179.0" y1="3457.5" x2="1209.0" y2="3457.5" stroke="#000" stroke-width="2"/>
<line x1="1194.0" y1="3457.5" x2="1194.0" y2="3463.5" stroke="#000" stroke-width="1.8"/>
<line x1="1179.0" y1="3490.0" x2="1209.0" y2="3490.0" stroke="#000" stroke-width="2"/>
<line x1="1194.0" y1="3490.0" x2="1194.0" y2="3493.0" stroke="#000" stroke-width="1.8"/>
<line x1="1366.5" y1="3070.5" x2="1396.5" y2="3070.5" stroke="#777" stroke-width="2"/>
<line x1="1381.5" y1="3070.5" x2="1381.5" y2="3085.0" stroke="#777" stroke-width="1.8"/>
<line x1="1366.5" y1="3207.5" x2="1396.5" y2="3207.5" stroke="#000" stroke-width="2"/>
<line x1="1381.5" y1="3207.5" x2="1381.5" y2="3225.0" stroke="#000" stroke-width="1.8"/>
<line x1="1460.2" y1="3065.5" x2="1490.2" y2="3065.5" stroke="#000" stroke-width="2"/>
<line x1="1475.2" y1="3065.5" x2="1475.2" y2="3074.0" stroke="#000" stroke-width="1.8"/>
<line x1="1554.0" y1="3063.5" x2="1584.0" y2="3063.5" stroke="#ccc" stroke-width="2"/>
<line x1="1569.0" y1="3063.5" x2="1569.0" y2="3074.0" stroke="#ccc" stroke-width="1.8"/>
<line x1="1554.0" y1="3109.5" x2="1584.0" y2="3109.5" stroke="#000" stroke-width="2"/>
<line x1="1569.0" y1="3109.5" x2="1569.0" y2="3110.5" stroke="#000" stroke-width="1.8"/>
<line x1="1554.0" y1="3496.0" x2="1584.0" y2="3496.0" stroke="#000" stroke-width="2"/>
<line x1="1569.0" y1="3496.0" x2="1569.0" y2="3497.5" stroke="#000" stroke-width="1.8"/>
<line x1="1554.0" y1="3526.0" x2="1584.0" y2="3526.0" stroke="#000" stroke-width="2"/>
<line x1="1569.0" y1="3526.0" x2="1569.0" y2="3530.0" stroke="#000" stroke-width="1.8"/>
<line x1="1647.8" y1="3070.5" x2="1677.8" y2="3070.5" stroke="#777" stroke-width="2"/>
<line x1="1662.8" y1="3070.5" x2="1662.8" y2="3074.0" stroke="#777" stroke-width="1.8"/>
<line x1="1647.8" y1="3100.5" x2="1677.8" y2="3100.5" stroke="#000" stroke-width="2"/>
<line x1="1662.8" y1="3100.5" x2="1662.8" y2="3103.5" stroke="#000" stroke-width="1.8"/>
<line x1="1741.5" y1="3070.5" x2="1771.5" y2="3070.5" stroke="#777" stroke-width="2"/>
<line x1="1756.5" y1="3070.5" x2="1756.5" y2="3074.0" stroke="#777" stroke-width="1.8"/>
<line x1="1741.5" y1="3093.0" x2="1771.5" y2="3093.0" stroke="#777" stroke-width="2"/>
<line x1="1756.5" y1="3093.0" x2="1756.5" y2="3096.5" stroke="#777" stroke-width="1.8"/>
<line x1="1741.5" y1="3487.0" x2="1771.5" y2="3487.0" stroke="#000" stroke-width="2"/>
<line x1="1756.5" y1="3487.0" x2="1756.5" y2="3488.0" stroke="#000" stroke-width="1.8"/>
<text x="350.1" y="3075.5" font-size="44.5" font-weight="normal" text-anchor="middle" fill="#000" letter-spacing="2.3" stroke="#000" stroke-width="0.5">****</text>
<text x="350.1" y="3183.0" font-size="44.5" font-weight="normal" text-anchor="middle" fill="#000" letter-spacing="2.3" stroke="#000" stroke-width="0.5">****</text>
<text x="350.1" y="3416.5" font-size="44.5" font-weight="normal" text-anchor="middle" fill="#000" letter-spacing="2.3" stroke="#000" stroke-width="0.5">***</text>
<text x="350.1" y="3493.0" font-size="44.5" font-weight="normal" text-anchor="middle" fill="#000" letter-spacing="2.3" stroke="#000" stroke-width="0.5">****</text>
<text x="445.8" y="3075.5" font-size="44.5" font-weight="normal" text-anchor="middle" fill="#000" letter-spacing="2.3" stroke="#000" stroke-width="0.5">****</text>
<text x="445.8" y="3204.5" font-size="44.5" font-weight="normal" text-anchor="middle" fill="#000" letter-spacing="2.3" stroke="#000" stroke-width="0.5">****</text>
<text x="445.8" y="3416.5" font-size="44.5" font-weight="normal" text-anchor="middle" fill="#000" letter-spacing="2.3" stroke="#000" stroke-width="0.5">****</text>
<text x="445.8" y="3493.0" font-size="44.5" font-weight="normal" text-anchor="middle" fill="#000" letter-spacing="2.3" stroke="#000" stroke-width="0.5">****</text>
<text x="544.9" y="3075.5" font-size="44.5" font-weight="normal" text-anchor="middle" fill="#000" letter-spacing="2.3" stroke="#000" stroke-width="0.5">****</text>
<text x="544.9" y="3204.5" font-size="44.5" font-weight="normal" text-anchor="middle" fill="#000" letter-spacing="2.3" stroke="#000" stroke-width="0.5">****</text>
<text x="544.9" y="3416.5" font-size="44.5" font-weight="normal" text-anchor="middle" fill="#000" letter-spacing="2.3" stroke="#000" stroke-width="0.5">****</text>
<text x="544.9" y="3493.0" font-size="44.5" font-weight="normal" text-anchor="middle" fill="#000" letter-spacing="2.3" stroke="#000" stroke-width="0.5">****</text>
<text x="637.1" y="3075.5" font-size="44.5" font-weight="normal" text-anchor="middle" fill="#000" letter-spacing="2.3" stroke="#000" stroke-width="0.5">****</text>
<text x="637.1" y="3276.5" font-size="44.5" font-weight="normal" text-anchor="middle" fill="#000" letter-spacing="2.3" stroke="#000" stroke-width="0.5">****</text>
<text x="637.1" y="3443.0" font-size="44.5" font-weight="normal" text-anchor="middle" fill="#000" letter-spacing="2.3" stroke="#000" stroke-width="0.5">****</text>
<text x="637.1" y="3500.5" font-size="44.5" font-weight="normal" text-anchor="middle" fill="#000" letter-spacing="2.3" stroke="#000" stroke-width="0.5">****</text>
<text x="910.1" y="3104.0" font-size="44.5" font-weight="normal" text-anchor="middle" fill="#000" letter-spacing="2.3" stroke="#000" stroke-width="0.5">****</text>
<text x="910.1" y="3468.0" font-size="44.5" font-weight="normal" text-anchor="middle" fill="#000" letter-spacing="2.3" stroke="#000" stroke-width="0.5">****</text>
<text x="910.1" y="3505.0" font-size="44.5" font-weight="normal" text-anchor="middle" fill="#000" letter-spacing="2.3" stroke="#000" stroke-width="0.5">****</text>
<text x="1007.6" y="3104.0" font-size="44.5" font-weight="normal" text-anchor="middle" fill="#000" letter-spacing="2.3" stroke="#000" stroke-width="0.5">****</text>
<text x="1007.6" y="3468.0" font-size="44.5" font-weight="normal" text-anchor="middle" fill="#000" letter-spacing="2.3" stroke="#000" stroke-width="0.5">****</text>
<text x="1007.6" y="3505.0" font-size="44.5" font-weight="normal" text-anchor="middle" fill="#000" letter-spacing="2.3" stroke="#000" stroke-width="0.5">****</text>
<text x="1103.4" y="3104.0" font-size="44.5" font-weight="normal" text-anchor="middle" fill="#000" letter-spacing="2.3" stroke="#000" stroke-width="0.5">****</text>
<text x="1103.4" y="3468.0" font-size="44.5" font-weight="normal" text-anchor="middle" fill="#000" letter-spacing="2.3" stroke="#000" stroke-width="0.5">****</text>
<text x="1103.4" y="3505.0" font-size="44.5" font-weight="normal" text-anchor="middle" fill="#000" letter-spacing="2.3" stroke="#000" stroke-width="0.5">****</text>
<text x="1199.2" y="3104.0" font-size="44.5" font-weight="normal" text-anchor="middle" fill="#000" letter-spacing="2.3" stroke="#000" stroke-width="0.5">****</text>
<text x="1199.2" y="3468.0" font-size="44.5" font-weight="normal" text-anchor="middle" fill="#000" letter-spacing="2.3" stroke="#000" stroke-width="0.5">****</text>
<text x="1199.2" y="3505.0" font-size="44.5" font-weight="normal" text-anchor="middle" fill="#000" letter-spacing="2.3" stroke="#000" stroke-width="0.5">****</text>
<text x="1478.9" y="3105.5" font-size="44.5" font-weight="normal" text-anchor="middle" fill="#000" letter-spacing="2.3" stroke="#000" stroke-width="0.5">****</text>
<text x="1478.9" y="3472.0" font-size="44.5" font-weight="normal" text-anchor="middle" fill="#000" letter-spacing="2.3" stroke="#000" stroke-width="0.5">****</text>
<text x="1478.9" y="3530.5" font-size="44.5" font-weight="normal" text-anchor="middle" fill="#000" letter-spacing="2.3" stroke="#000" stroke-width="0.5">****</text>
<text x="1570.9" y="3105.5" font-size="44.5" font-weight="normal" text-anchor="middle" fill="#000" letter-spacing="2.3" stroke="#000" stroke-width="0.5">****</text>
<text x="1570.9" y="3490.5" font-size="44.5" font-weight="normal" text-anchor="middle" fill="#000" letter-spacing="2.3" stroke="#000" stroke-width="0.5">****</text>
<text x="1570.9" y="3530.5" font-size="44.5" font-weight="normal" text-anchor="middle" fill="#000" letter-spacing="2.3" stroke="#000" stroke-width="0.5">****</text>
<text x="1664.9" y="3072.0" font-size="44.5" font-weight="normal" text-anchor="middle" fill="#000" letter-spacing="2.3" stroke="#000" stroke-width="0.5">**</text>
<text x="1664.9" y="3105.5" font-size="44.5" font-weight="normal" text-anchor="middle" fill="#000" letter-spacing="2.3" stroke="#000" stroke-width="0.5">****</text>
<text x="1664.9" y="3490.5" font-size="44.5" font-weight="normal" text-anchor="middle" fill="#000" letter-spacing="2.3" stroke="#000" stroke-width="0.5">****</text>
<text x="1664.9" y="3530.5" font-size="44.5" font-weight="normal" text-anchor="middle" fill="#000" letter-spacing="2.3" stroke="#000" stroke-width="0.5">****</text>
<text x="1759.2" y="3072.0" font-size="44.5" font-weight="normal" text-anchor="middle" fill="#000" letter-spacing="2.3" stroke="#000" stroke-width="0.5">*</text>
<text x="1759.2" y="3105.5" font-size="44.5" font-weight="normal" text-anchor="middle" fill="#000" letter-spacing="2.3" stroke="#000" stroke-width="0.5">****</text>
<text x="1759.2" y="3490.5" font-size="44.5" font-weight="normal" text-anchor="middle" fill="#000" letter-spacing="2.3" stroke="#000" stroke-width="0.5">****</text>
<text x="1759.2" y="3530.5" font-size="44.5" font-weight="normal" text-anchor="middle" fill="#000" letter-spacing="2.3" stroke="#000" stroke-width="0.5">****</text>
<text x="1008.0" y="3694.5" font-size="40.5" font-weight="bold" text-anchor="middle" fill="#000" >Concentration (μg/mL)</text>
</svg></body></html>
